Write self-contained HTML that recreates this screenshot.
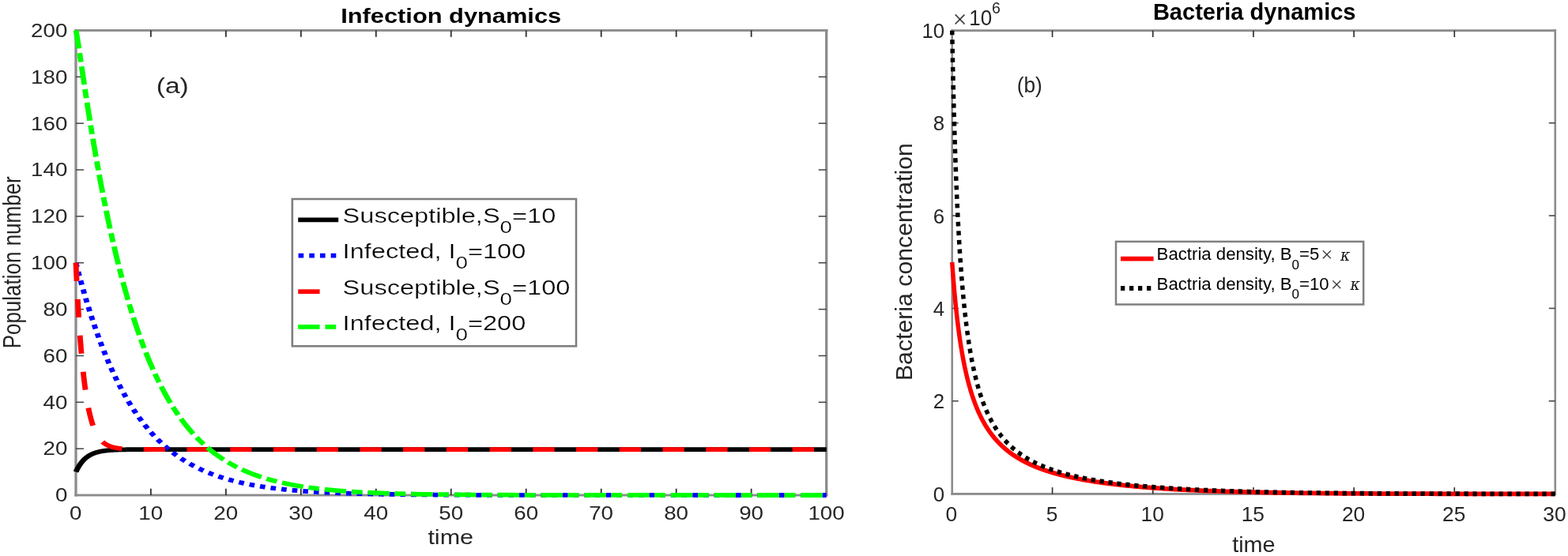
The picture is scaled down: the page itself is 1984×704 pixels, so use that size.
<!DOCTYPE html>
<html><head><meta charset="utf-8"><title>Infection and Bacteria dynamics</title>
<style>
html,body{margin:0;padding:0;background:#fff;}
body{width:1984px;height:704px;overflow:hidden;}
svg{display:block;font-family:"Liberation Sans", sans-serif;}
</style></head><body>
<svg width="1984" height="704" viewBox="0 0 1984 704">
<rect width="1984" height="704" fill="#fff"/>
<g id="left">
<rect x="94.35" y="37.05" width="953.00" height="2.90" fill="#8c8c8c"/>
<rect x="94.35" y="625.55" width="953.00" height="2.90" fill="#8c8c8c"/>
<rect x="94.35" y="37.05" width="3.30" height="591.40" fill="#8c8c8c"/>
<rect x="1044.05" y="37.05" width="3.30" height="591.40" fill="#8c8c8c"/>
<rect x="189.97" y="618.70" width="1.8" height="8.3" fill="#2e2e2e"/>
<rect x="189.97" y="38.50" width="1.8" height="8.3" fill="#2e2e2e"/>
<rect x="284.94" y="618.70" width="1.8" height="8.3" fill="#2e2e2e"/>
<rect x="284.94" y="38.50" width="1.8" height="8.3" fill="#2e2e2e"/>
<rect x="379.91" y="618.70" width="1.8" height="8.3" fill="#2e2e2e"/>
<rect x="379.91" y="38.50" width="1.8" height="8.3" fill="#2e2e2e"/>
<rect x="474.88" y="618.70" width="1.8" height="8.3" fill="#2e2e2e"/>
<rect x="474.88" y="38.50" width="1.8" height="8.3" fill="#2e2e2e"/>
<rect x="569.85" y="618.70" width="1.8" height="8.3" fill="#2e2e2e"/>
<rect x="569.85" y="38.50" width="1.8" height="8.3" fill="#2e2e2e"/>
<rect x="664.82" y="618.70" width="1.8" height="8.3" fill="#2e2e2e"/>
<rect x="664.82" y="38.50" width="1.8" height="8.3" fill="#2e2e2e"/>
<rect x="759.79" y="618.70" width="1.8" height="8.3" fill="#2e2e2e"/>
<rect x="759.79" y="38.50" width="1.8" height="8.3" fill="#2e2e2e"/>
<rect x="854.76" y="618.70" width="1.8" height="8.3" fill="#2e2e2e"/>
<rect x="854.76" y="38.50" width="1.8" height="8.3" fill="#2e2e2e"/>
<rect x="949.73" y="618.70" width="1.8" height="8.3" fill="#2e2e2e"/>
<rect x="949.73" y="38.50" width="1.8" height="8.3" fill="#2e2e2e"/>
<rect x="96.00" y="567.40" width="10" height="1.5" fill="#444"/>
<rect x="1035.70" y="567.40" width="10" height="1.5" fill="#444"/>
<rect x="96.00" y="508.55" width="10" height="1.5" fill="#444"/>
<rect x="1035.70" y="508.55" width="10" height="1.5" fill="#444"/>
<rect x="96.00" y="449.70" width="10" height="1.5" fill="#444"/>
<rect x="1035.70" y="449.70" width="10" height="1.5" fill="#444"/>
<rect x="96.00" y="390.85" width="10" height="1.5" fill="#444"/>
<rect x="1035.70" y="390.85" width="10" height="1.5" fill="#444"/>
<rect x="96.00" y="332.00" width="10" height="1.5" fill="#444"/>
<rect x="1035.70" y="332.00" width="10" height="1.5" fill="#444"/>
<rect x="96.00" y="273.15" width="10" height="1.5" fill="#444"/>
<rect x="1035.70" y="273.15" width="10" height="1.5" fill="#444"/>
<rect x="96.00" y="214.30" width="10" height="1.5" fill="#444"/>
<rect x="1035.70" y="214.30" width="10" height="1.5" fill="#444"/>
<rect x="96.00" y="155.45" width="10" height="1.5" fill="#444"/>
<rect x="1035.70" y="155.45" width="10" height="1.5" fill="#444"/>
<rect x="96.00" y="96.60" width="10" height="1.5" fill="#444"/>
<rect x="1035.70" y="96.60" width="10" height="1.5" fill="#444"/>
<g transform="scale(1.188 1)" fill="none" stroke-linecap="butt" stroke-linejoin="round">
<path d="M80.81 597.58 L81.00 597.08 L81.19 596.59 L81.38 596.11 L81.58 595.64 L81.77 595.18 L81.96 594.73 L82.15 594.28 L82.34 593.84 L82.53 593.41 L82.73 592.99 L82.92 592.57 L83.11 592.16 L83.30 591.76 L83.49 591.37 L83.69 590.98 L83.88 590.60 L84.07 590.22 L84.26 589.86 L84.45 589.49 L84.65 589.14 L84.84 588.79 L85.03 588.45 L85.22 588.11 L85.41 587.78 L85.60 587.45 L85.80 587.13 L85.99 586.82 L86.18 586.51 L86.37 586.21 L86.56 585.91 L86.76 585.61 L86.95 585.33 L87.14 585.04 L87.33 584.76 L87.52 584.49 L87.71 584.22 L87.91 583.96 L88.10 583.70 L88.29 583.45 L88.48 583.20 L88.67 582.95 L88.87 582.71 L89.06 582.47 L89.25 582.24 L89.44 582.01 L89.63 581.78 L89.83 581.56 L90.02 581.34 L90.21 581.13 L90.40 580.92 L90.59 580.71 L90.78 580.51 L90.98 580.31 L91.17 580.11 L91.36 579.92 L91.55 579.73 L91.74 579.55 L91.94 579.36 L92.13 579.19 L92.32 579.01 L92.51 578.84 L92.70 578.67 L92.90 578.50 L93.09 578.33 L93.28 578.17 L93.47 578.01 L93.66 577.86 L93.85 577.70 L94.05 577.55 L94.24 577.41 L94.43 577.26 L94.62 577.12 L94.81 576.98 L95.01 576.84 L95.20 576.70 L95.39 576.57 L95.58 576.44 L95.77 576.31 L95.96 576.18 L96.16 576.06 L96.35 575.94 L96.54 575.82 L96.73 575.70 L96.92 575.58 L97.12 575.47 L97.31 575.36 L97.50 575.25 L97.69 575.14 L97.88 575.03 L98.08 574.93 L98.27 574.83 L98.46 574.73 L98.65 574.63 L98.84 574.53 L99.03 574.44 L99.23 574.34 L99.42 574.25 L99.61 574.16 L99.80 574.07 L99.99 573.98 L100.19 573.90 L100.38 573.81 L100.57 573.73 L100.76 573.65 L100.95 573.57 L101.15 573.49 L101.34 573.41 L101.53 573.34 L101.72 573.26 L101.91 573.19 L102.10 573.12 L102.30 573.04 L102.49 572.97 L102.68 572.91 L102.87 572.84 L103.06 572.77 L103.26 572.71 L103.45 572.64 L103.64 572.58 L103.83 572.52 L104.02 572.46 L104.21 572.40 L104.41 572.34 L104.60 572.28 L104.79 572.23 L104.98 572.17 L105.17 572.12 L105.37 572.06 L105.56 572.01 L105.75 571.96 L105.94 571.91 L106.13 571.86 L106.33 571.81 L106.52 571.76 L106.71 571.71 L106.90 571.67 L107.09 571.62 L107.28 571.58 L107.48 571.53 L107.67 571.49 L107.86 571.45 L108.05 571.40 L108.24 571.36 L108.44 571.32 L108.63 571.28 L108.82 571.24 L109.01 571.21 L109.20 571.17 L109.40 571.13 L109.59 571.09 L109.78 571.06 L109.97 571.02 L110.16 570.99 L110.35 570.95 L110.55 570.92 L110.74 570.89 L110.93 570.86 L111.12 570.82 L111.31 570.79 L111.51 570.76 L111.70 570.73 L111.89 570.70 L112.08 570.67 L112.27 570.65 L112.46 570.62 L112.66 570.59 L112.85 570.56 L113.04 570.54 L113.23 570.51 L113.42 570.48 L113.62 570.46 L113.81 570.43 L114.00 570.41 L114.19 570.39 L114.38 570.36 L114.58 570.34 L114.77 570.32 L114.96 570.29 L115.15 570.27 L115.34 570.25 L115.53 570.23 L115.73 570.21 L115.92 570.19 L116.11 570.17 L116.30 570.15 L116.49 570.13 L116.69 570.11 L116.88 570.09 L117.07 570.07 L117.26 570.06 L117.45 570.04 L117.64 570.02 L117.84 570.00 L118.03 569.99 L118.22 569.97 L118.41 569.95 L118.60 569.94 L118.80 569.92 L118.99 569.91 L119.18 569.89 L119.37 569.88 L119.56 569.86 L119.76 569.85 L119.95 569.83 L120.14 569.82 L120.33 569.81 L120.52 569.79 L120.71 569.78 L120.91 569.77 L121.10 569.75 L121.29 569.74 L121.48 569.73 L121.67 569.72 L121.87 569.70 L122.06 569.69 L122.25 569.68 L122.44 569.67 L122.63 569.66 L122.83 569.65 L123.02 569.64 L123.21 569.63 L123.40 569.62 L123.59 569.61 L123.78 569.60 L123.98 569.59 L124.17 569.58 L124.36 569.57 L124.55 569.56 L124.74 569.55 L124.94 569.54 L125.13 569.53 L125.32 569.52 L125.51 569.51 L125.70 569.51 L125.89 569.50 L126.09 569.49 L126.28 569.48 L126.47 569.47 L126.66 569.47 L126.85 569.46 L127.05 569.45 L127.24 569.44 L127.43 569.44 L127.62 569.43 L127.81 569.42 L128.01 569.42 L128.20 569.41 L128.39 569.40 L128.58 569.40 L128.77 569.39 L128.96 569.38 L129.16 569.38 L129.35 569.37 L129.54 569.37 L129.73 569.36 L129.92 569.35 L130.12 569.35 L130.31 569.34 L130.50 569.34 L130.69 569.33 L130.88 569.33 L131.08 569.32 L131.27 569.32 L131.46 569.31 L131.65 569.31 L131.84 569.30 L132.03 569.30 L132.23 569.29 L132.42 569.29 L132.61 569.28 L132.80 569.28 L132.99 569.28 L133.19 569.27 L133.38 569.27 L133.57 569.26 L133.76 569.26 L133.95 569.26 L134.14 569.25 L134.34 569.25 L134.53 569.24 L134.72 569.24 L134.91 569.24 L135.10 569.23 L135.30 569.23 L135.49 569.23 L135.68 569.22 L135.87 569.22 L136.06 569.22 L136.26 569.21 L136.45 569.21 L136.64 569.21 L136.83 569.20 L137.02 569.20 L137.21 569.20 L137.41 569.20 L137.60 569.19 L137.79 569.19 L137.98 569.19 L138.17 569.18 L138.37 569.18 L138.56 569.18 L138.75 569.18 L138.94 569.17 L139.13 569.17 L139.32 569.17 L139.52 569.17 L139.71 569.16 L139.90 569.16 L140.09 569.16 L140.28 569.16 L140.48 569.16 L140.67 569.15 L140.86 569.15 L141.05 569.15 L141.24 569.15 L141.44 569.15 L141.63 569.14 L141.82 569.14 L142.01 569.14 L142.20 569.14 L142.39 569.14 L142.59 569.13 L142.78 569.13 L142.97 569.13 L143.16 569.13 L143.35 569.13 L143.55 569.13 L143.74 569.12 L143.93 569.12 L144.12 569.12 L144.31 569.12 L144.51 569.12 L144.70 569.12 L144.89 569.11 L145.08 569.11 L145.27 569.11 L145.46 569.11 L145.66 569.11 L145.85 569.11 L146.04 569.11 L146.23 569.11 L146.42 569.10 L146.62 569.10 L146.81 569.10 L147.00 569.10 L147.19 569.10 L147.38 569.10 L147.57 569.10 L147.77 569.10 L147.96 569.09 L148.15 569.09 L148.34 569.09 L148.53 569.09 L148.73 569.09 L148.92 569.09 L149.11 569.09 L149.30 569.09 L149.49 569.09 L149.69 569.09 L149.88 569.08 L150.07 569.08 L150.26 569.08 L150.45 569.08 L150.64 569.08 L150.84 569.08 L151.03 569.08 L151.22 569.08 L151.41 569.08 L151.60 569.08 L151.80 569.08 L151.99 569.08 L152.18 569.07 L152.37 569.07 L152.56 569.07 L152.76 569.07 L152.95 569.07 L153.14 569.07 L153.33 569.07 L153.52 569.07 L153.71 569.07 L153.91 569.07 L154.10 569.07 L154.29 569.07 L154.48 569.07 L154.67 569.07 L154.87 569.07 L155.06 569.07 L155.25 569.06 L155.44 569.06 L155.63 569.06 L155.82 569.06 L156.02 569.06 L156.21 569.06 L156.40 569.06 L156.59 569.06 L156.78 569.06 L156.98 569.06 L157.17 569.06 L157.36 569.06 L157.55 569.06 L157.74 569.06 L157.94 569.06 L158.13 569.06 L158.32 569.06 L158.51 569.06 L158.70 569.06 L158.89 569.06 L159.09 569.06 L159.28 569.05 L159.47 569.05 L159.66 569.05 L159.85 569.05 L160.05 569.05 L160.24 569.05 L160.43 569.05 L160.62 569.05 L160.81 569.05 L161.00 569.05 L161.20 569.05 L161.39 569.05 L161.58 569.05 L161.77 569.05 L161.96 569.05 L162.16 569.05 L162.35 569.05 L162.54 569.05 L162.73 569.05 L162.92 569.05 L163.12 569.05 L163.31 569.05 L163.50 569.05 L163.69 569.05 L163.88 569.05 L164.07 569.05 L164.27 569.05 L164.46 569.05 L164.65 569.05 L164.84 569.05 L165.03 569.05 L165.23 569.05 L165.42 569.05 L165.61 569.05 L165.80 569.04 L165.99 569.04 L166.19 569.04 L166.38 569.04 L166.57 569.04 L166.76 569.04 L166.95 569.04 L167.14 569.04 L167.34 569.04 L167.53 569.04 L167.72 569.04 L167.91 569.04 L168.10 569.04 L168.30 569.04 L168.49 569.04 L168.68 569.04 L168.87 569.04 L169.06 569.04 L169.25 569.04 L169.45 569.04 L169.64 569.04 L169.83 569.04 L170.02 569.04 L170.21 569.04 L170.41 569.04 L170.60 569.04 L170.79 569.04 L170.98 569.04 L171.17 569.04 L171.37 569.04 L171.56 569.04 L171.75 569.04 L171.94 569.04 L172.13 569.04 L172.32 569.04 L172.52 569.04 L172.71 569.04 L172.90 569.04 L173.09 569.04 L173.28 569.04 L173.48 569.04 L173.67 569.04 L173.86 569.04 L174.05 569.04 L174.24 569.04 L174.44 569.04 L174.63 569.04 L174.82 569.04 L175.01 569.04 L175.20 569.04 L175.39 569.04 L175.59 569.04 L175.78 569.04 L175.97 569.04 L176.16 569.04 L176.35 569.04 L176.55 569.04 L176.74 569.04 L177.62 569.04 L178.50 569.04 L179.38 569.04 L180.25 569.04 L181.13 569.04 L182.01 569.04 L182.89 569.04 L183.77 569.04 L184.65 569.03 L185.53 569.03 L186.41 569.03 L187.29 569.03 L188.17 569.03 L189.05 569.03 L189.93 569.03 L190.81 569.03 L191.69 569.03 L192.57 569.03 L193.45 569.03 L194.32 569.03 L195.20 569.03 L196.08 569.03 L196.96 569.03 L197.84 569.03 L198.72 569.03 L199.60 569.03 L200.48 569.03 L201.36 569.03 L202.24 569.03 L203.12 569.03 L204.00 569.03 L204.88 569.03 L205.76 569.03 L206.64 569.03 L207.51 569.03 L208.39 569.03 L209.27 569.03 L210.15 569.03 L211.03 569.03 L211.91 569.03 L212.79 569.03 L213.67 569.03 L214.55 569.03 L215.43 569.03 L216.31 569.03 L217.19 569.03 L218.07 569.03 L218.95 569.03 L219.83 569.03 L220.70 569.03 L221.58 569.03 L222.46 569.03 L223.34 569.03 L224.22 569.03 L225.10 569.03 L225.98 569.03 L226.86 569.03 L227.74 569.03 L228.62 569.03 L229.50 569.03 L230.38 569.03 L231.26 569.03 L232.14 569.03 L233.02 569.03 L233.90 569.03 L234.77 569.03 L235.65 569.03 L236.53 569.03 L237.41 569.03 L238.29 569.03 L239.17 569.03 L240.05 569.03 L240.93 569.03 L241.81 569.03 L242.69 569.03 L243.57 569.03 L244.45 569.03 L245.33 569.03 L246.21 569.03 L247.09 569.03 L247.96 569.03 L248.84 569.03 L249.72 569.03 L250.60 569.03 L251.48 569.03 L252.36 569.03 L253.24 569.03 L254.12 569.03 L255.00 569.03 L255.88 569.03 L256.76 569.03 L257.64 569.03 L258.52 569.03 L259.40 569.03 L260.28 569.03 L261.16 569.03 L262.03 569.03 L262.91 569.03 L263.79 569.03 L264.67 569.03 L265.55 569.03 L266.43 569.03 L267.31 569.03 L268.19 569.03 L269.07 569.03 L269.95 569.03 L270.83 569.03 L271.71 569.03 L272.59 569.03 L273.47 569.03 L274.35 569.03 L275.22 569.03 L276.10 569.03 L276.98 569.03 L277.86 569.03 L278.74 569.03 L279.62 569.03 L280.50 569.03 L281.38 569.03 L282.26 569.03 L283.14 569.03 L284.02 569.03 L284.90 569.03 L285.78 569.03 L286.66 569.03 L287.54 569.03 L288.42 569.03 L289.29 569.03 L290.17 569.03 L291.05 569.03 L291.93 569.03 L292.81 569.03 L293.69 569.03 L294.57 569.03 L295.45 569.03 L296.33 569.03 L297.21 569.03 L298.09 569.03 L298.97 569.03 L299.85 569.03 L300.73 569.03 L301.61 569.03 L302.48 569.03 L303.36 569.03 L304.24 569.03 L305.12 569.03 L306.00 569.03 L306.88 569.03 L307.76 569.03 L308.64 569.03 L309.52 569.03 L310.40 569.03 L311.28 569.03 L312.16 569.03 L313.04 569.03 L313.92 569.03 L314.80 569.03 L315.67 569.03 L316.55 569.03 L317.43 569.03 L318.31 569.03 L319.19 569.03 L320.07 569.03 L320.95 569.03 L321.83 569.03 L322.71 569.03 L323.59 569.03 L324.47 569.03 L325.35 569.03 L326.23 569.03 L327.11 569.03 L327.99 569.03 L328.87 569.03 L329.74 569.03 L330.62 569.03 L331.50 569.03 L332.38 569.03 L333.26 569.03 L334.14 569.03 L335.02 569.03 L335.90 569.03 L336.78 569.03 L337.66 569.03 L338.54 569.03 L339.42 569.03 L340.30 569.03 L341.18 569.03 L342.06 569.03 L342.93 569.03 L343.81 569.03 L344.69 569.03 L345.57 569.03 L346.45 569.03 L347.33 569.03 L348.21 569.03 L349.09 569.03 L349.97 569.03 L350.85 569.03 L351.73 569.03 L352.61 569.03 L353.49 569.03 L354.37 569.03 L355.25 569.03 L356.13 569.03 L357.00 569.03 L357.88 569.03 L358.76 569.03 L359.64 569.03 L360.52 569.03 L361.40 569.03 L362.28 569.03 L363.16 569.03 L364.04 569.03 L364.92 569.03 L365.80 569.03 L366.68 569.03 L367.56 569.03 L368.44 569.03 L369.32 569.03 L370.19 569.03 L371.07 569.03 L371.95 569.03 L372.83 569.03 L373.71 569.03 L374.59 569.03 L375.47 569.03 L376.35 569.03 L377.23 569.03 L378.11 569.03 L378.99 569.03 L379.87 569.03 L380.75 569.03 L381.63 569.03 L382.51 569.03 L383.39 569.03 L384.26 569.03 L385.14 569.03 L386.02 569.03 L386.90 569.03 L387.78 569.03 L388.66 569.03 L389.54 569.03 L390.42 569.03 L391.30 569.03 L392.18 569.03 L393.06 569.03 L393.94 569.03 L394.82 569.03 L395.70 569.03 L396.58 569.03 L397.45 569.03 L398.33 569.03 L399.21 569.03 L400.09 569.03 L400.97 569.03 L401.85 569.03 L402.73 569.03 L403.61 569.03 L404.49 569.03 L405.37 569.03 L406.25 569.03 L407.13 569.03 L408.01 569.03 L408.89 569.03 L409.77 569.03 L410.64 569.03 L411.52 569.03 L412.40 569.03 L413.28 569.03 L414.16 569.03 L415.04 569.03 L415.92 569.03 L416.80 569.03 L417.68 569.03 L418.56 569.03 L419.44 569.03 L420.32 569.03 L421.20 569.03 L422.08 569.03 L422.96 569.03 L423.84 569.03 L424.71 569.03 L425.59 569.03 L426.47 569.03 L427.35 569.03 L428.23 569.03 L429.11 569.03 L429.99 569.03 L430.87 569.03 L431.75 569.03 L432.63 569.03 L433.51 569.03 L434.39 569.03 L435.27 569.03 L436.15 569.03 L437.03 569.03 L437.90 569.03 L438.78 569.03 L439.66 569.03 L440.54 569.03 L451.82 569.03 L463.09 569.03 L474.36 569.03 L485.64 569.03 L496.91 569.03 L508.19 569.03 L519.46 569.03 L530.73 569.03 L542.01 569.03 L553.28 569.03 L564.55 569.03 L575.83 569.03 L587.10 569.03 L598.38 569.03 L609.65 569.03 L620.92 569.03 L632.20 569.03 L643.47 569.03 L654.74 569.03 L666.02 569.03 L677.29 569.03 L688.57 569.03 L699.84 569.03 L711.11 569.03 L722.39 569.03 L733.66 569.03 L744.93 569.03 L756.21 569.03 L767.48 569.03 L778.76 569.03 L790.03 569.03 L801.30 569.03 L812.58 569.03 L823.85 569.03 L835.12 569.03 L846.40 569.03 L857.67 569.03 L868.95 569.03 L880.22 569.03" stroke="#000" stroke-width="5.76"/>
<path d="M80.81 332.75 L81.00 333.63 L81.19 334.51 L81.38 335.39 L81.58 336.26 L81.77 337.13 L81.96 338.01 L82.15 338.87 L82.34 339.74 L82.53 340.60 L82.73 341.46 L82.92 342.32 L83.11 343.18 L83.30 344.03 L83.49 344.88 L83.69 345.73 L83.88 346.58 L84.07 347.43 L84.26 348.27 L84.45 349.11 L84.65 349.95 L84.84 350.78 L85.03 351.62 L85.22 352.45 L85.41 353.28 L85.60 354.11 L85.80 354.93 L85.99 355.75 L86.18 356.57 L86.37 357.39 L86.56 358.21 L86.76 359.02 L86.95 359.83 L87.14 360.64 L87.33 361.45 L87.52 362.26 L87.71 363.06 L87.91 363.86 L88.10 364.66 L88.29 365.46 L88.48 366.25 L88.67 367.04 L88.87 367.83 L89.06 368.62 L89.25 369.40 L89.44 370.19 L89.63 370.97 L89.83 371.75 L90.02 372.53 L90.21 373.30 L90.40 374.07 L90.59 374.84 L90.78 375.61 L90.98 376.38 L91.17 377.14 L91.36 377.91 L91.55 378.67 L91.74 379.42 L91.94 380.18 L92.13 380.93 L92.32 381.69 L92.51 382.43 L92.70 383.18 L92.90 383.93 L93.09 384.67 L93.28 385.41 L93.47 386.15 L93.66 386.89 L93.85 387.62 L94.05 388.36 L94.24 389.09 L94.43 389.82 L94.62 390.54 L94.81 391.27 L95.01 391.99 L95.20 392.71 L95.39 393.43 L95.58 394.15 L95.77 394.86 L95.96 395.58 L96.16 396.29 L96.35 397.00 L96.54 397.70 L96.73 398.41 L96.92 399.11 L97.12 399.81 L97.31 400.51 L97.50 401.21 L97.69 401.90 L97.88 402.59 L98.08 403.29 L98.27 403.97 L98.46 404.66 L98.65 405.35 L98.84 406.03 L99.03 406.71 L99.23 407.39 L99.42 408.07 L99.61 408.74 L99.80 409.42 L99.99 410.09 L100.19 410.76 L100.38 411.43 L100.57 412.09 L100.76 412.76 L100.95 413.42 L101.15 414.08 L101.34 414.74 L101.53 415.39 L101.72 416.05 L101.91 416.70 L102.10 417.35 L102.30 418.00 L102.49 418.65 L102.68 419.29 L102.87 419.93 L103.06 420.57 L103.26 421.21 L103.45 421.85 L103.64 422.49 L103.83 423.12 L104.02 423.75 L104.21 424.38 L104.41 425.01 L104.60 425.64 L104.79 426.26 L104.98 426.89 L105.17 427.51 L105.37 428.13 L105.56 428.75 L105.75 429.36 L105.94 429.98 L106.13 430.59 L106.33 431.20 L106.52 431.81 L106.71 432.41 L106.90 433.02 L107.09 433.62 L107.28 434.22 L107.48 434.82 L107.67 435.42 L107.86 436.02 L108.05 436.61 L108.24 437.21 L108.44 437.80 L108.63 438.39 L108.82 438.97 L109.01 439.56 L109.20 440.14 L109.40 440.73 L109.59 441.31 L109.78 441.89 L109.97 442.46 L110.16 443.04 L110.35 443.61 L110.55 444.19 L110.74 444.76 L110.93 445.33 L111.12 445.89 L111.31 446.46 L111.51 447.02 L111.70 447.58 L111.89 448.15 L112.08 448.70 L112.27 449.26 L112.46 449.82 L112.66 450.37 L112.85 450.92 L113.04 451.47 L113.23 452.02 L113.42 452.57 L113.62 453.12 L113.81 453.66 L114.00 454.20 L114.19 454.74 L114.38 455.28 L114.58 455.82 L114.77 456.36 L114.96 456.89 L115.15 457.43 L115.34 457.96 L115.53 458.49 L115.73 459.01 L115.92 459.54 L116.11 460.07 L116.30 460.59 L116.49 461.11 L116.69 461.63 L116.88 462.15 L117.07 462.67 L117.26 463.18 L117.45 463.70 L117.64 464.21 L117.84 464.72 L118.03 465.23 L118.22 465.74 L118.41 466.25 L118.60 466.75 L118.80 467.25 L118.99 467.76 L119.18 468.26 L119.37 468.76 L119.56 469.25 L119.76 469.75 L119.95 470.24 L120.14 470.74 L120.33 471.23 L120.52 471.72 L120.71 472.21 L120.91 472.69 L121.10 473.18 L121.29 473.66 L121.48 474.15 L121.67 474.63 L121.87 475.11 L122.06 475.59 L122.25 476.06 L122.44 476.54 L122.63 477.01 L122.83 477.49 L123.02 477.96 L123.21 478.43 L123.40 478.89 L123.59 479.36 L123.78 479.83 L123.98 480.29 L124.17 480.75 L124.36 481.22 L124.55 481.67 L124.74 482.13 L124.94 482.59 L125.13 483.05 L125.32 483.50 L125.51 483.95 L125.70 484.41 L125.89 484.86 L126.09 485.30 L126.28 485.75 L126.47 486.20 L126.66 486.64 L126.85 487.09 L127.05 487.53 L127.24 487.97 L127.43 488.41 L127.62 488.85 L127.81 489.28 L128.01 489.72 L128.20 490.15 L128.39 490.58 L128.58 491.02 L128.77 491.45 L128.96 491.87 L129.16 492.30 L129.35 492.73 L129.54 493.15 L129.73 493.58 L129.92 494.00 L130.12 494.42 L130.31 494.84 L130.50 495.26 L130.69 495.67 L130.88 496.09 L131.08 496.51 L131.27 496.92 L131.46 497.33 L131.65 497.74 L131.84 498.15 L132.03 498.56 L132.23 498.97 L132.42 499.37 L132.61 499.78 L132.80 500.18 L132.99 500.58 L133.19 500.98 L133.38 501.38 L133.57 501.78 L133.76 502.18 L133.95 502.57 L134.14 502.97 L134.34 503.36 L134.53 503.75 L134.72 504.14 L134.91 504.53 L135.10 504.92 L135.30 505.31 L135.49 505.70 L135.68 506.08 L135.87 506.46 L136.06 506.85 L136.26 507.23 L136.45 507.61 L136.64 507.99 L136.83 508.37 L137.02 508.74 L137.21 509.12 L137.41 509.49 L137.60 509.87 L137.79 510.24 L137.98 510.61 L138.17 510.98 L138.37 511.35 L138.56 511.72 L138.75 512.08 L138.94 512.45 L139.13 512.81 L139.32 513.17 L139.52 513.54 L139.71 513.90 L139.90 514.26 L140.09 514.62 L140.28 514.97 L140.48 515.33 L140.67 515.68 L140.86 516.04 L141.05 516.39 L141.24 516.74 L141.44 517.09 L141.63 517.44 L141.82 517.79 L142.01 518.14 L142.20 518.49 L142.39 518.83 L142.59 519.18 L142.78 519.52 L142.97 519.86 L143.16 520.20 L143.35 520.54 L143.55 520.88 L143.74 521.22 L143.93 521.56 L144.12 521.89 L144.31 522.23 L144.51 522.56 L144.70 522.90 L144.89 523.23 L145.08 523.56 L145.27 523.89 L145.46 524.22 L145.66 524.54 L145.85 524.87 L146.04 525.20 L146.23 525.52 L146.42 525.84 L146.62 526.17 L146.81 526.49 L147.00 526.81 L147.19 527.13 L147.38 527.45 L147.57 527.76 L147.77 528.08 L147.96 528.40 L148.15 528.71 L148.34 529.02 L148.53 529.34 L148.73 529.65 L148.92 529.96 L149.11 530.27 L149.30 530.58 L149.49 530.89 L149.69 531.19 L149.88 531.50 L150.07 531.80 L150.26 532.11 L150.45 532.41 L150.64 532.71 L150.84 533.01 L151.03 533.31 L151.22 533.61 L151.41 533.91 L151.60 534.21 L151.80 534.50 L151.99 534.80 L152.18 535.09 L152.37 535.39 L152.56 535.68 L152.76 535.97 L152.95 536.26 L153.14 536.55 L153.33 536.84 L153.52 537.13 L153.71 537.42 L153.91 537.70 L154.10 537.99 L154.29 538.27 L154.48 538.56 L154.67 538.84 L154.87 539.12 L155.06 539.40 L155.25 539.68 L155.44 539.96 L155.63 540.24 L155.82 540.52 L156.02 540.79 L156.21 541.07 L156.40 541.35 L156.59 541.62 L156.78 541.89 L156.98 542.16 L157.17 542.44 L157.36 542.71 L157.55 542.98 L157.74 543.25 L157.94 543.51 L158.13 543.78 L158.32 544.05 L158.51 544.31 L158.70 544.58 L158.89 544.84 L159.09 545.10 L159.28 545.37 L159.47 545.63 L159.66 545.89 L159.85 546.15 L160.05 546.41 L160.24 546.66 L160.43 546.92 L160.62 547.18 L160.81 547.43 L161.00 547.69 L161.20 547.94 L161.39 548.20 L161.58 548.45 L161.77 548.70 L161.96 548.95 L162.16 549.20 L162.35 549.45 L162.54 549.70 L162.73 549.95 L162.92 550.19 L163.12 550.44 L163.31 550.68 L163.50 550.93 L163.69 551.17 L163.88 551.42 L164.07 551.66 L164.27 551.90 L164.46 552.14 L164.65 552.38 L164.84 552.62 L165.03 552.86 L165.23 553.10 L165.42 553.33 L165.61 553.57 L165.80 553.80 L165.99 554.04 L166.19 554.27 L166.38 554.51 L166.57 554.74 L166.76 554.97 L166.95 555.20 L167.14 555.43 L167.34 555.66 L167.53 555.89 L167.72 556.12 L167.91 556.34 L168.10 556.57 L168.30 556.80 L168.49 557.02 L168.68 557.25 L168.87 557.47 L169.06 557.69 L169.25 557.92 L169.45 558.14 L169.64 558.36 L169.83 558.58 L170.02 558.80 L170.21 559.02 L170.41 559.24 L170.60 559.45 L170.79 559.67 L170.98 559.89 L171.17 560.10 L171.37 560.32 L171.56 560.53 L171.75 560.74 L171.94 560.96 L172.13 561.17 L172.32 561.38 L172.52 561.59 L172.71 561.80 L172.90 562.01 L173.09 562.22 L173.28 562.43 L173.48 562.63 L173.67 562.84 L173.86 563.05 L174.05 563.25 L174.24 563.46 L174.44 563.66 L174.63 563.86 L174.82 564.07 L175.01 564.27 L175.20 564.47 L175.39 564.67 L175.59 564.87 L175.78 565.07 L175.97 565.27 L176.16 565.47 L176.35 565.67 L176.55 565.86 L176.74 566.06 L177.62 566.95 L178.50 567.83 L179.38 568.70 L180.25 569.55 L181.13 570.39 L182.01 571.22 L182.89 572.04 L183.77 572.85 L184.65 573.64 L185.53 574.42 L186.41 575.19 L187.29 575.95 L188.17 576.70 L189.05 577.44 L189.93 578.17 L190.81 578.88 L191.69 579.59 L192.57 580.28 L193.45 580.97 L194.32 581.65 L195.20 582.31 L196.08 582.97 L196.96 583.61 L197.84 584.25 L198.72 584.88 L199.60 585.50 L200.48 586.11 L201.36 586.71 L202.24 587.30 L203.12 587.88 L204.00 588.46 L204.88 589.02 L205.76 589.58 L206.64 590.13 L207.51 590.67 L208.39 591.21 L209.27 591.73 L210.15 592.25 L211.03 592.76 L211.91 593.26 L212.79 593.76 L213.67 594.25 L214.55 594.73 L215.43 595.21 L216.31 595.67 L217.19 596.13 L218.07 596.59 L218.95 597.03 L219.83 597.48 L220.70 597.91 L221.58 598.34 L222.46 598.76 L223.34 599.17 L224.22 599.58 L225.10 599.99 L225.98 600.38 L226.86 600.78 L227.74 601.16 L228.62 601.54 L229.50 601.92 L230.38 602.29 L231.26 602.65 L232.14 603.01 L233.02 603.36 L233.90 603.71 L234.77 604.05 L235.65 604.39 L236.53 604.72 L237.41 605.05 L238.29 605.37 L239.17 605.69 L240.05 606.00 L240.93 606.31 L241.81 606.62 L242.69 606.92 L243.57 607.21 L244.45 607.51 L245.33 607.79 L246.21 608.08 L247.09 608.35 L247.96 608.63 L248.84 608.90 L249.72 609.17 L250.60 609.43 L251.48 609.69 L252.36 609.94 L253.24 610.19 L254.12 610.44 L255.00 610.68 L255.88 610.92 L256.76 611.16 L257.64 611.39 L258.52 611.62 L259.40 611.85 L260.28 612.07 L261.16 612.29 L262.03 612.51 L262.91 612.72 L263.79 612.93 L264.67 613.14 L265.55 613.35 L266.43 613.55 L267.31 613.74 L268.19 613.94 L269.07 614.13 L269.95 614.32 L270.83 614.51 L271.71 614.69 L272.59 614.87 L273.47 615.05 L274.35 615.23 L275.22 615.40 L276.10 615.57 L276.98 615.74 L277.86 615.91 L278.74 616.07 L279.62 616.23 L280.50 616.39 L281.38 616.55 L282.26 616.70 L283.14 616.85 L284.02 617.00 L284.90 617.15 L285.78 617.29 L286.66 617.44 L287.54 617.58 L288.42 617.72 L289.29 617.85 L290.17 617.99 L291.05 618.12 L291.93 618.25 L292.81 618.38 L293.69 618.51 L294.57 618.63 L295.45 618.76 L296.33 618.88 L297.21 619.00 L298.09 619.12 L298.97 619.23 L299.85 619.35 L300.73 619.46 L301.61 619.57 L302.48 619.68 L303.36 619.79 L304.24 619.89 L305.12 620.00 L306.00 620.10 L306.88 620.20 L307.76 620.30 L308.64 620.40 L309.52 620.50 L310.40 620.60 L311.28 620.69 L312.16 620.78 L313.04 620.87 L313.92 620.96 L314.80 621.05 L315.67 621.14 L316.55 621.23 L317.43 621.31 L318.31 621.40 L319.19 621.48 L320.07 621.56 L320.95 621.64 L321.83 621.72 L322.71 621.80 L323.59 621.87 L324.47 621.95 L325.35 622.02 L326.23 622.10 L327.11 622.17 L327.99 622.24 L328.87 622.31 L329.74 622.38 L330.62 622.45 L331.50 622.52 L332.38 622.58 L333.26 622.65 L334.14 622.71 L335.02 622.77 L335.90 622.84 L336.78 622.90 L337.66 622.96 L338.54 623.02 L339.42 623.08 L340.30 623.13 L341.18 623.19 L342.06 623.25 L342.93 623.30 L343.81 623.36 L344.69 623.41 L345.57 623.46 L346.45 623.52 L347.33 623.57 L348.21 623.62 L349.09 623.67 L349.97 623.72 L350.85 623.76 L351.73 623.81 L352.61 623.86 L353.49 623.91 L354.37 623.95 L355.25 624.00 L356.13 624.04 L357.00 624.08 L357.88 624.13 L358.76 624.17 L359.64 624.21 L360.52 624.25 L361.40 624.29 L362.28 624.33 L363.16 624.37 L364.04 624.41 L364.92 624.45 L365.80 624.49 L366.68 624.52 L367.56 624.56 L368.44 624.60 L369.32 624.63 L370.19 624.67 L371.07 624.70 L371.95 624.73 L372.83 624.77 L373.71 624.80 L374.59 624.83 L375.47 624.87 L376.35 624.90 L377.23 624.93 L378.11 624.96 L378.99 624.99 L379.87 625.02 L380.75 625.05 L381.63 625.08 L382.51 625.10 L383.39 625.13 L384.26 625.16 L385.14 625.19 L386.02 625.21 L386.90 625.24 L387.78 625.27 L388.66 625.29 L389.54 625.32 L390.42 625.34 L391.30 625.37 L392.18 625.39 L393.06 625.41 L393.94 625.44 L394.82 625.46 L395.70 625.48 L396.58 625.51 L397.45 625.53 L398.33 625.55 L399.21 625.57 L400.09 625.59 L400.97 625.61 L401.85 625.63 L402.73 625.65 L403.61 625.67 L404.49 625.69 L405.37 625.71 L406.25 625.73 L407.13 625.75 L408.01 625.77 L408.89 625.79 L409.77 625.80 L410.64 625.82 L411.52 625.84 L412.40 625.86 L413.28 625.87 L414.16 625.89 L415.04 625.91 L415.92 625.92 L416.80 625.94 L417.68 625.95 L418.56 625.97 L419.44 625.98 L420.32 626.00 L421.20 626.01 L422.08 626.03 L422.96 626.04 L423.84 626.06 L424.71 626.07 L425.59 626.08 L426.47 626.10 L427.35 626.11 L428.23 626.12 L429.11 626.14 L429.99 626.15 L430.87 626.16 L431.75 626.17 L432.63 626.19 L433.51 626.20 L434.39 626.21 L435.27 626.22 L436.15 626.23 L437.03 626.25 L437.90 626.26 L438.78 626.27 L439.66 626.28 L440.54 626.29 L451.82 626.41 L463.09 626.51 L474.36 626.60 L485.64 626.67 L496.91 626.73 L508.19 626.77 L519.46 626.81 L530.73 626.84 L542.01 626.87 L553.28 626.89 L564.55 626.91 L575.83 626.93 L587.10 626.94 L598.38 626.95 L609.65 626.96 L620.92 626.97 L632.20 626.97 L643.47 626.98 L654.74 626.98 L666.02 626.98 L677.29 626.99 L688.57 626.99 L699.84 626.99 L711.11 626.99 L722.39 626.99 L733.66 626.99 L744.93 627.00 L756.21 627.00 L767.48 627.00 L778.76 627.00 L790.03 627.00 L801.30 627.00 L812.58 627.00 L823.85 627.00 L835.12 627.00 L846.40 627.00 L857.67 627.00 L868.95 627.00 L880.22 627.00" stroke="#0000ff" stroke-width="5.76" stroke-dasharray="5.592 5.938"/>
<path d="M80.81 332.75 L81.00 337.80 L81.19 342.74 L81.38 347.58 L81.58 352.31 L81.77 356.94 L81.96 361.47 L82.15 365.91 L82.34 370.25 L82.53 374.49 L82.73 378.65 L82.92 382.72 L83.11 386.70 L83.30 390.60 L83.49 394.41 L83.69 398.14 L83.88 401.79 L84.07 405.37 L84.26 408.86 L84.45 412.29 L84.65 415.64 L84.84 418.91 L85.03 422.12 L85.22 425.26 L85.41 428.33 L85.60 431.34 L85.80 434.28 L85.99 437.16 L86.18 439.98 L86.37 442.74 L86.56 445.44 L86.76 448.08 L86.95 450.66 L87.14 453.19 L87.33 455.67 L87.52 458.09 L87.71 460.46 L87.91 462.78 L88.10 465.05 L88.29 467.27 L88.48 469.45 L88.67 471.57 L88.87 473.66 L89.06 475.69 L89.25 477.69 L89.44 479.64 L89.63 481.55 L89.83 483.42 L90.02 485.25 L90.21 487.04 L90.40 488.79 L90.59 490.51 L90.78 492.18 L90.98 493.83 L91.17 495.43 L91.36 497.01 L91.55 498.55 L91.74 500.05 L91.94 501.53 L92.13 502.97 L92.32 504.38 L92.51 505.76 L92.70 507.11 L92.90 508.44 L93.09 509.73 L93.28 511.00 L93.47 512.24 L93.66 513.45 L93.85 514.64 L94.05 515.80 L94.24 516.94 L94.43 518.05 L94.62 519.14 L94.81 520.21 L95.01 521.25 L95.20 522.27 L95.39 523.27 L95.58 524.25 L95.77 525.21 L95.96 526.14 L96.16 527.06 L96.35 527.96 L96.54 528.83 L96.73 529.69 L96.92 530.53 L97.12 531.36 L97.31 532.16 L97.50 532.95 L97.69 533.72 L97.88 534.48 L98.08 535.21 L98.27 535.94 L98.46 536.64 L98.65 537.34 L98.84 538.01 L99.03 538.68 L99.23 539.32 L99.42 539.96 L99.61 540.58 L99.80 541.19 L99.99 541.78 L100.19 542.37 L100.38 542.94 L100.57 543.49 L100.76 544.04 L100.95 544.57 L101.15 545.10 L101.34 545.61 L101.53 546.11 L101.72 546.60 L101.91 547.08 L102.10 547.55 L102.30 548.01 L102.49 548.45 L102.68 548.89 L102.87 549.32 L103.06 549.75 L103.26 550.16 L103.45 550.56 L103.64 550.96 L103.83 551.34 L104.02 551.72 L104.21 552.09 L104.41 552.45 L104.60 552.81 L104.79 553.15 L104.98 553.49 L105.17 553.82 L105.37 554.15 L105.56 554.47 L105.75 554.78 L105.94 555.08 L106.13 555.38 L106.33 555.67 L106.52 555.96 L106.71 556.24 L106.90 556.51 L107.09 556.78 L107.28 557.04 L107.48 557.30 L107.67 557.55 L107.86 557.79 L108.05 558.03 L108.24 558.27 L108.44 558.50 L108.63 558.72 L108.82 558.94 L109.01 559.16 L109.20 559.37 L109.40 559.58 L109.59 559.78 L109.78 559.98 L109.97 560.17 L110.16 560.36 L110.35 560.54 L110.55 560.73 L110.74 560.90 L110.93 561.08 L111.12 561.25 L111.31 561.41 L111.51 561.58 L111.70 561.74 L111.89 561.89 L112.08 562.04 L112.27 562.19 L112.46 562.34 L112.66 562.48 L112.85 562.62 L113.04 562.76 L113.23 562.89 L113.42 563.03 L113.62 563.15 L113.81 563.28 L114.00 563.40 L114.19 563.52 L114.38 563.64 L114.58 563.76 L114.77 563.87 L114.96 563.98 L115.15 564.09 L115.34 564.19 L115.53 564.30 L115.73 564.40 L115.92 564.50 L116.11 564.59 L116.30 564.69 L116.49 564.78 L116.69 564.87 L116.88 564.96 L117.07 565.05 L117.26 565.13 L117.45 565.22 L117.64 565.30 L117.84 565.38 L118.03 565.46 L118.22 565.53 L118.41 565.61 L118.60 565.68 L118.80 565.75 L118.99 565.82 L119.18 565.89 L119.37 565.96 L119.56 566.02 L119.76 566.09 L119.95 566.15 L120.14 566.21 L120.33 566.27 L120.52 566.33 L120.71 566.39 L120.91 566.45 L121.10 566.50 L121.29 566.55 L121.48 566.61 L121.67 566.66 L121.87 566.71 L122.06 566.76 L122.25 566.81 L122.44 566.86 L122.63 566.90 L122.83 566.95 L123.02 566.99 L123.21 567.04 L123.40 567.08 L123.59 567.12 L123.78 567.16 L123.98 567.20 L124.17 567.24 L124.36 567.28 L124.55 567.32 L124.74 567.35 L124.94 567.39 L125.13 567.42 L125.32 567.46 L125.51 567.49 L125.70 567.52 L125.89 567.56 L126.09 567.59 L126.28 567.62 L126.47 567.65 L126.66 567.68 L126.85 567.71 L127.05 567.74 L127.24 567.76 L127.43 567.79 L127.62 567.82 L127.81 567.84 L128.01 567.87 L128.20 567.89 L128.39 567.92 L128.58 567.94 L128.77 567.97 L128.96 567.99 L129.16 568.01 L129.35 568.03 L129.54 568.05 L129.73 568.07 L129.92 568.10 L130.12 568.12 L130.31 568.13 L130.50 568.15 L130.69 568.17 L130.88 568.19 L131.08 568.21 L131.27 568.23 L131.46 568.24 L131.65 568.26 L131.84 568.28 L132.03 568.29 L132.23 568.31 L132.42 568.32 L132.61 568.34 L132.80 568.35 L132.99 568.37 L133.19 568.38 L133.38 568.40 L133.57 568.41 L133.76 568.42 L133.95 568.44 L134.14 568.45 L134.34 568.46 L134.53 568.47 L134.72 568.49 L134.91 568.50 L135.10 568.51 L135.30 568.52 L135.49 568.53 L135.68 568.54 L135.87 568.55 L136.06 568.56 L136.26 568.57 L136.45 568.58 L136.64 568.59 L136.83 568.60 L137.02 568.61 L137.21 568.62 L137.41 568.63 L137.60 568.64 L137.79 568.65 L137.98 568.65 L138.17 568.66 L138.37 568.67 L138.56 568.68 L138.75 568.69 L138.94 568.69 L139.13 568.70 L139.32 568.71 L139.52 568.71 L139.71 568.72 L139.90 568.73 L140.09 568.73 L140.28 568.74 L140.48 568.75 L140.67 568.75 L140.86 568.76 L141.05 568.76 L141.24 568.77 L141.44 568.78 L141.63 568.78 L141.82 568.79 L142.01 568.79 L142.20 568.80 L142.39 568.80 L142.59 568.81 L142.78 568.81 L142.97 568.82 L143.16 568.82 L143.35 568.83 L143.55 568.83 L143.74 568.83 L143.93 568.84 L144.12 568.84 L144.31 568.85 L144.51 568.85 L144.70 568.86 L144.89 568.86 L145.08 568.86 L145.27 568.87 L145.46 568.87 L145.66 568.87 L145.85 568.88 L146.04 568.88 L146.23 568.88 L146.42 568.89 L146.62 568.89 L146.81 568.89 L147.00 568.90 L147.19 568.90 L147.38 568.90 L147.57 568.90 L147.77 568.91 L147.96 568.91 L148.15 568.91 L148.34 568.91 L148.53 568.92 L148.73 568.92 L148.92 568.92 L149.11 568.92 L149.30 568.93 L149.49 568.93 L149.69 568.93 L149.88 568.93 L150.07 568.94 L150.26 568.94 L150.45 568.94 L150.64 568.94 L150.84 568.94 L151.03 568.95 L151.22 568.95 L151.41 568.95 L151.60 568.95 L151.80 568.95 L151.99 568.95 L152.18 568.96 L152.37 568.96 L152.56 568.96 L152.76 568.96 L152.95 568.96 L153.14 568.96 L153.33 568.97 L153.52 568.97 L153.71 568.97 L153.91 568.97 L154.10 568.97 L154.29 568.97 L154.48 568.97 L154.67 568.97 L154.87 568.98 L155.06 568.98 L155.25 568.98 L155.44 568.98 L155.63 568.98 L155.82 568.98 L156.02 568.98 L156.21 568.98 L156.40 568.99 L156.59 568.99 L156.78 568.99 L156.98 568.99 L157.17 568.99 L157.36 568.99 L157.55 568.99 L157.74 568.99 L157.94 568.99 L158.13 568.99 L158.32 568.99 L158.51 569.00 L158.70 569.00 L158.89 569.00 L159.09 569.00 L159.28 569.00 L159.47 569.00 L159.66 569.00 L159.85 569.00 L160.05 569.00 L160.24 569.00 L160.43 569.00 L160.62 569.00 L160.81 569.00 L161.00 569.00 L161.20 569.01 L161.39 569.01 L161.58 569.01 L161.77 569.01 L161.96 569.01 L162.16 569.01 L162.35 569.01 L162.54 569.01 L162.73 569.01 L162.92 569.01 L163.12 569.01 L163.31 569.01 L163.50 569.01 L163.69 569.01 L163.88 569.01 L164.07 569.01 L164.27 569.01 L164.46 569.01 L164.65 569.01 L164.84 569.01 L165.03 569.01 L165.23 569.02 L165.42 569.02 L165.61 569.02 L165.80 569.02 L165.99 569.02 L166.19 569.02 L166.38 569.02 L166.57 569.02 L166.76 569.02 L166.95 569.02 L167.14 569.02 L167.34 569.02 L167.53 569.02 L167.72 569.02 L167.91 569.02 L168.10 569.02 L168.30 569.02 L168.49 569.02 L168.68 569.02 L168.87 569.02 L169.06 569.02 L169.25 569.02 L169.45 569.02 L169.64 569.02 L169.83 569.02 L170.02 569.02 L170.21 569.02 L170.41 569.02 L170.60 569.02 L170.79 569.02 L170.98 569.02 L171.17 569.02 L171.37 569.02 L171.56 569.02 L171.75 569.02 L171.94 569.02 L172.13 569.02 L172.32 569.02 L172.52 569.02 L172.71 569.03 L172.90 569.03 L173.09 569.03 L173.28 569.03 L173.48 569.03 L173.67 569.03 L173.86 569.03 L174.05 569.03 L174.24 569.03 L174.44 569.03 L174.63 569.03 L174.82 569.03 L175.01 569.03 L175.20 569.03 L175.39 569.03 L175.59 569.03 L175.78 569.03 L175.97 569.03 L176.16 569.03 L176.35 569.03 L176.55 569.03 L176.74 569.03 L177.62 569.03 L178.50 569.03 L179.38 569.03 L180.25 569.03 L181.13 569.03 L182.01 569.03 L182.89 569.03 L183.77 569.03 L184.65 569.03 L185.53 569.03 L186.41 569.03 L187.29 569.03 L188.17 569.03 L189.05 569.03 L189.93 569.03 L190.81 569.03 L191.69 569.03 L192.57 569.03 L193.45 569.03 L194.32 569.03 L195.20 569.03 L196.08 569.03 L196.96 569.03 L197.84 569.03 L198.72 569.03 L199.60 569.03 L200.48 569.03 L201.36 569.03 L202.24 569.03 L203.12 569.03 L204.00 569.03 L204.88 569.03 L205.76 569.03 L206.64 569.03 L207.51 569.03 L208.39 569.03 L209.27 569.03 L210.15 569.03 L211.03 569.03 L211.91 569.03 L212.79 569.03 L213.67 569.03 L214.55 569.03 L215.43 569.03 L216.31 569.03 L217.19 569.03 L218.07 569.03 L218.95 569.03 L219.83 569.03 L220.70 569.03 L221.58 569.03 L222.46 569.03 L223.34 569.03 L224.22 569.03 L225.10 569.03 L225.98 569.03 L226.86 569.03 L227.74 569.03 L228.62 569.03 L229.50 569.03 L230.38 569.03 L231.26 569.03 L232.14 569.03 L233.02 569.03 L233.90 569.03 L234.77 569.03 L235.65 569.03 L236.53 569.03 L237.41 569.03 L238.29 569.03 L239.17 569.03 L240.05 569.03 L240.93 569.03 L241.81 569.03 L242.69 569.03 L243.57 569.03 L244.45 569.03 L245.33 569.03 L246.21 569.03 L247.09 569.03 L247.96 569.03 L248.84 569.03 L249.72 569.03 L250.60 569.03 L251.48 569.03 L252.36 569.03 L253.24 569.03 L254.12 569.03 L255.00 569.03 L255.88 569.03 L256.76 569.03 L257.64 569.03 L258.52 569.03 L259.40 569.03 L260.28 569.03 L261.16 569.03 L262.03 569.03 L262.91 569.03 L263.79 569.03 L264.67 569.03 L265.55 569.03 L266.43 569.03 L267.31 569.03 L268.19 569.03 L269.07 569.03 L269.95 569.03 L270.83 569.03 L271.71 569.03 L272.59 569.03 L273.47 569.03 L274.35 569.03 L275.22 569.03 L276.10 569.03 L276.98 569.03 L277.86 569.03 L278.74 569.03 L279.62 569.03 L280.50 569.03 L281.38 569.03 L282.26 569.03 L283.14 569.03 L284.02 569.03 L284.90 569.03 L285.78 569.03 L286.66 569.03 L287.54 569.03 L288.42 569.03 L289.29 569.03 L290.17 569.03 L291.05 569.03 L291.93 569.03 L292.81 569.03 L293.69 569.03 L294.57 569.03 L295.45 569.03 L296.33 569.03 L297.21 569.03 L298.09 569.03 L298.97 569.03 L299.85 569.03 L300.73 569.03 L301.61 569.03 L302.48 569.03 L303.36 569.03 L304.24 569.03 L305.12 569.03 L306.00 569.03 L306.88 569.03 L307.76 569.03 L308.64 569.03 L309.52 569.03 L310.40 569.03 L311.28 569.03 L312.16 569.03 L313.04 569.03 L313.92 569.03 L314.80 569.03 L315.67 569.03 L316.55 569.03 L317.43 569.03 L318.31 569.03 L319.19 569.03 L320.07 569.03 L320.95 569.03 L321.83 569.03 L322.71 569.03 L323.59 569.03 L324.47 569.03 L325.35 569.03 L326.23 569.03 L327.11 569.03 L327.99 569.03 L328.87 569.03 L329.74 569.03 L330.62 569.03 L331.50 569.03 L332.38 569.03 L333.26 569.03 L334.14 569.03 L335.02 569.03 L335.90 569.03 L336.78 569.03 L337.66 569.03 L338.54 569.03 L339.42 569.03 L340.30 569.03 L341.18 569.03 L342.06 569.03 L342.93 569.03 L343.81 569.03 L344.69 569.03 L345.57 569.03 L346.45 569.03 L347.33 569.03 L348.21 569.03 L349.09 569.03 L349.97 569.03 L350.85 569.03 L351.73 569.03 L352.61 569.03 L353.49 569.03 L354.37 569.03 L355.25 569.03 L356.13 569.03 L357.00 569.03 L357.88 569.03 L358.76 569.03 L359.64 569.03 L360.52 569.03 L361.40 569.03 L362.28 569.03 L363.16 569.03 L364.04 569.03 L364.92 569.03 L365.80 569.03 L366.68 569.03 L367.56 569.03 L368.44 569.03 L369.32 569.03 L370.19 569.03 L371.07 569.03 L371.95 569.03 L372.83 569.03 L373.71 569.03 L374.59 569.03 L375.47 569.03 L376.35 569.03 L377.23 569.03 L378.11 569.03 L378.99 569.03 L379.87 569.03 L380.75 569.03 L381.63 569.03 L382.51 569.03 L383.39 569.03 L384.26 569.03 L385.14 569.03 L386.02 569.03 L386.90 569.03 L387.78 569.03 L388.66 569.03 L389.54 569.03 L390.42 569.03 L391.30 569.03 L392.18 569.03 L393.06 569.03 L393.94 569.03 L394.82 569.03 L395.70 569.03 L396.58 569.03 L397.45 569.03 L398.33 569.03 L399.21 569.03 L400.09 569.03 L400.97 569.03 L401.85 569.03 L402.73 569.03 L403.61 569.03 L404.49 569.03 L405.37 569.03 L406.25 569.03 L407.13 569.03 L408.01 569.03 L408.89 569.03 L409.77 569.03 L410.64 569.03 L411.52 569.03 L412.40 569.03 L413.28 569.03 L414.16 569.03 L415.04 569.03 L415.92 569.03 L416.80 569.03 L417.68 569.03 L418.56 569.03 L419.44 569.03 L420.32 569.03 L421.20 569.03 L422.08 569.03 L422.96 569.03 L423.84 569.03 L424.71 569.03 L425.59 569.03 L426.47 569.03 L427.35 569.03 L428.23 569.03 L429.11 569.03 L429.99 569.03 L430.87 569.03 L431.75 569.03 L432.63 569.03 L433.51 569.03 L434.39 569.03 L435.27 569.03 L436.15 569.03 L437.03 569.03 L437.90 569.03 L438.78 569.03 L439.66 569.03 L440.54 569.03 L451.82 569.03 L463.09 569.03 L474.36 569.03 L485.64 569.03 L496.91 569.03 L508.19 569.03 L519.46 569.03 L530.73 569.03 L542.01 569.03 L553.28 569.03 L564.55 569.03 L575.83 569.03 L587.10 569.03 L598.38 569.03 L609.65 569.03 L620.92 569.03 L632.20 569.03 L643.47 569.03 L654.74 569.03 L666.02 569.03 L677.29 569.03 L688.57 569.03 L699.84 569.03 L711.11 569.03 L722.39 569.03 L733.66 569.03 L744.93 569.03 L756.21 569.03 L767.48 569.03 L778.76 569.03 L790.03 569.03 L801.30 569.03 L812.58 569.03 L823.85 569.03 L835.12 569.03 L846.40 569.03 L857.67 569.03 L868.95 569.03 L880.22 569.03" stroke="#ff0000" stroke-width="5.76" stroke-dasharray="23.034 23.034"/>
<path d="M80.81 38.50 L81.00 39.64 L81.19 40.83 L81.38 42.05 L81.58 43.30 L81.77 44.59 L81.96 45.90 L82.15 47.24 L82.34 48.60 L82.53 49.98 L82.73 51.38 L82.92 52.80 L83.11 54.24 L83.30 55.69 L83.49 57.15 L83.69 58.63 L83.88 60.11 L84.07 61.60 L84.26 63.10 L84.45 64.61 L84.65 66.13 L84.84 67.65 L85.03 69.17 L85.22 70.70 L85.41 72.23 L85.60 73.77 L85.80 75.31 L85.99 76.85 L86.18 78.39 L86.37 79.93 L86.56 81.47 L86.76 83.02 L86.95 84.56 L87.14 86.10 L87.33 87.65 L87.52 89.19 L87.71 90.73 L87.91 92.27 L88.10 93.80 L88.29 95.34 L88.48 96.87 L88.67 98.41 L88.87 99.94 L89.06 101.46 L89.25 102.99 L89.44 104.51 L89.63 106.03 L89.83 107.55 L90.02 109.06 L90.21 110.58 L90.40 112.09 L90.59 113.59 L90.78 115.10 L90.98 116.60 L91.17 118.09 L91.36 119.59 L91.55 121.08 L91.74 122.56 L91.94 124.05 L92.13 125.53 L92.32 127.01 L92.51 128.48 L92.70 129.95 L92.90 131.42 L93.09 132.88 L93.28 134.34 L93.47 135.80 L93.66 137.25 L93.85 138.70 L94.05 140.15 L94.24 141.59 L94.43 143.03 L94.62 144.47 L94.81 145.90 L95.01 147.33 L95.20 148.75 L95.39 150.17 L95.58 151.59 L95.77 153.01 L95.96 154.42 L96.16 155.83 L96.35 157.23 L96.54 158.63 L96.73 160.03 L96.92 161.42 L97.12 162.81 L97.31 164.20 L97.50 165.58 L97.69 166.96 L97.88 168.33 L98.08 169.70 L98.27 171.07 L98.46 172.44 L98.65 173.80 L98.84 175.16 L99.03 176.51 L99.23 177.86 L99.42 179.21 L99.61 180.55 L99.80 181.89 L99.99 183.23 L100.19 184.56 L100.38 185.89 L100.57 187.22 L100.76 188.54 L100.95 189.86 L101.15 191.18 L101.34 192.49 L101.53 193.80 L101.72 195.10 L101.91 196.40 L102.10 197.70 L102.30 199.00 L102.49 200.29 L102.68 201.58 L102.87 202.86 L103.06 204.14 L103.26 205.42 L103.45 206.69 L103.64 207.96 L103.83 209.23 L104.02 210.49 L104.21 211.76 L104.41 213.01 L104.60 214.27 L104.79 215.52 L104.98 216.76 L105.17 218.01 L105.37 219.25 L105.56 220.48 L105.75 221.72 L105.94 222.95 L106.13 224.17 L106.33 225.40 L106.52 226.62 L106.71 227.83 L106.90 229.05 L107.09 230.26 L107.28 231.47 L107.48 232.67 L107.67 233.87 L107.86 235.07 L108.05 236.26 L108.24 237.45 L108.44 238.64 L108.63 239.82 L108.82 241.00 L109.01 242.18 L109.20 243.35 L109.40 244.52 L109.59 245.69 L109.78 246.86 L109.97 248.02 L110.16 249.17 L110.35 250.33 L110.55 251.48 L110.74 252.63 L110.93 253.77 L111.12 254.92 L111.31 256.05 L111.51 257.19 L111.70 258.32 L111.89 259.45 L112.08 260.58 L112.27 261.70 L112.46 262.82 L112.66 263.94 L112.85 265.05 L113.04 266.16 L113.23 267.27 L113.42 268.37 L113.62 269.47 L113.81 270.57 L114.00 271.67 L114.19 272.76 L114.38 273.85 L114.58 274.93 L114.77 276.01 L114.96 277.09 L115.15 278.17 L115.34 279.24 L115.53 280.31 L115.73 281.38 L115.92 282.45 L116.11 283.51 L116.30 284.57 L116.49 285.62 L116.69 286.67 L116.88 287.72 L117.07 288.77 L117.26 289.81 L117.45 290.85 L117.64 291.89 L117.84 292.92 L118.03 293.95 L118.22 294.98 L118.41 296.01 L118.60 297.03 L118.80 298.05 L118.99 299.07 L119.18 300.08 L119.37 301.09 L119.56 302.10 L119.76 303.11 L119.95 304.11 L120.14 305.11 L120.33 306.10 L120.52 307.10 L120.71 308.09 L120.91 309.08 L121.10 310.06 L121.29 311.04 L121.48 312.02 L121.67 313.00 L121.87 313.97 L122.06 314.94 L122.25 315.91 L122.44 316.88 L122.63 317.84 L122.83 318.80 L123.02 319.76 L123.21 320.71 L123.40 321.66 L123.59 322.61 L123.78 323.55 L123.98 324.50 L124.17 325.44 L124.36 326.38 L124.55 327.31 L124.74 328.24 L124.94 329.17 L125.13 330.10 L125.32 331.02 L125.51 331.94 L125.70 332.86 L125.89 333.78 L126.09 334.69 L126.28 335.60 L126.47 336.51 L126.66 337.41 L126.85 338.32 L127.05 339.22 L127.24 340.11 L127.43 341.01 L127.62 341.90 L127.81 342.79 L128.01 343.68 L128.20 344.56 L128.39 345.44 L128.58 346.32 L128.77 347.20 L128.96 348.07 L129.16 348.94 L129.35 349.81 L129.54 350.68 L129.73 351.54 L129.92 352.40 L130.12 353.26 L130.31 354.12 L130.50 354.97 L130.69 355.82 L130.88 356.67 L131.08 357.51 L131.27 358.36 L131.46 359.20 L131.65 360.04 L131.84 360.87 L132.03 361.70 L132.23 362.54 L132.42 363.36 L132.61 364.19 L132.80 365.01 L132.99 365.83 L133.19 366.65 L133.38 367.47 L133.57 368.28 L133.76 369.09 L133.95 369.90 L134.14 370.71 L134.34 371.51 L134.53 372.31 L134.72 373.11 L134.91 373.91 L135.10 374.70 L135.30 375.50 L135.49 376.28 L135.68 377.07 L135.87 377.86 L136.06 378.64 L136.26 379.42 L136.45 380.20 L136.64 380.97 L136.83 381.75 L137.02 382.52 L137.21 383.29 L137.41 384.05 L137.60 384.82 L137.79 385.58 L137.98 386.34 L138.17 387.09 L138.37 387.85 L138.56 388.60 L138.75 389.35 L138.94 390.10 L139.13 390.85 L139.32 391.59 L139.52 392.33 L139.71 393.07 L139.90 393.81 L140.09 394.54 L140.28 395.27 L140.48 396.00 L140.67 396.73 L140.86 397.46 L141.05 398.18 L141.24 398.90 L141.44 399.62 L141.63 400.34 L141.82 401.05 L142.01 401.76 L142.20 402.47 L142.39 403.18 L142.59 403.89 L142.78 404.59 L142.97 405.30 L143.16 405.99 L143.35 406.69 L143.55 407.39 L143.74 408.08 L143.93 408.77 L144.12 409.46 L144.31 410.15 L144.51 410.83 L144.70 411.52 L144.89 412.20 L145.08 412.88 L145.27 413.55 L145.46 414.23 L145.66 414.90 L145.85 415.57 L146.04 416.24 L146.23 416.91 L146.42 417.57 L146.62 418.23 L146.81 418.89 L147.00 419.55 L147.19 420.21 L147.38 420.86 L147.57 421.51 L147.77 422.16 L147.96 422.81 L148.15 423.46 L148.34 424.10 L148.53 424.75 L148.73 425.39 L148.92 426.02 L149.11 426.66 L149.30 427.30 L149.49 427.93 L149.69 428.56 L149.88 429.19 L150.07 429.81 L150.26 430.44 L150.45 431.06 L150.64 431.68 L150.84 432.30 L151.03 432.92 L151.22 433.53 L151.41 434.15 L151.60 434.76 L151.80 435.37 L151.99 435.98 L152.18 436.58 L152.37 437.19 L152.56 437.79 L152.76 438.39 L152.95 438.99 L153.14 439.58 L153.33 440.18 L153.52 440.77 L153.71 441.36 L153.91 441.95 L154.10 442.54 L154.29 443.13 L154.48 443.71 L154.67 444.29 L154.87 444.87 L155.06 445.45 L155.25 446.03 L155.44 446.60 L155.63 447.18 L155.82 447.75 L156.02 448.32 L156.21 448.88 L156.40 449.45 L156.59 450.02 L156.78 450.58 L156.98 451.14 L157.17 451.70 L157.36 452.26 L157.55 452.81 L157.74 453.36 L157.94 453.92 L158.13 454.47 L158.32 455.02 L158.51 455.56 L158.70 456.11 L158.89 456.65 L159.09 457.19 L159.28 457.74 L159.47 458.27 L159.66 458.81 L159.85 459.35 L160.05 459.88 L160.24 460.41 L160.43 460.94 L160.62 461.47 L160.81 462.00 L161.00 462.52 L161.20 463.05 L161.39 463.57 L161.58 464.09 L161.77 464.61 L161.96 465.13 L162.16 465.64 L162.35 466.16 L162.54 466.67 L162.73 467.18 L162.92 467.69 L163.12 468.20 L163.31 468.70 L163.50 469.21 L163.69 469.71 L163.88 470.21 L164.07 470.71 L164.27 471.21 L164.46 471.71 L164.65 472.20 L164.84 472.70 L165.03 473.19 L165.23 473.68 L165.42 474.17 L165.61 474.65 L165.80 475.14 L165.99 475.63 L166.19 476.11 L166.38 476.59 L166.57 477.07 L166.76 477.55 L166.95 478.03 L167.14 478.50 L167.34 478.97 L167.53 479.45 L167.72 479.92 L167.91 480.39 L168.10 480.86 L168.30 481.32 L168.49 481.79 L168.68 482.25 L168.87 482.71 L169.06 483.17 L169.25 483.63 L169.45 484.09 L169.64 484.55 L169.83 485.00 L170.02 485.46 L170.21 485.91 L170.41 486.36 L170.60 486.81 L170.79 487.26 L170.98 487.70 L171.17 488.15 L171.37 488.59 L171.56 489.03 L171.75 489.48 L171.94 489.92 L172.13 490.35 L172.32 490.79 L172.52 491.23 L172.71 491.66 L172.90 492.09 L173.09 492.52 L173.28 492.95 L173.48 493.38 L173.67 493.81 L173.86 494.24 L174.05 494.66 L174.24 495.08 L174.44 495.51 L174.63 495.93 L174.82 496.35 L175.01 496.76 L175.20 497.18 L175.39 497.60 L175.59 498.01 L175.78 498.42 L175.97 498.83 L176.16 499.24 L176.35 499.65 L176.55 500.06 L176.74 500.47 L177.62 502.31 L178.50 504.13 L179.38 505.93 L180.25 507.69 L181.13 509.44 L182.01 511.15 L182.89 512.84 L183.77 514.51 L184.65 516.16 L185.53 517.78 L186.41 519.37 L187.29 520.95 L188.17 522.50 L189.05 524.03 L189.93 525.53 L190.81 527.02 L191.69 528.48 L192.57 529.92 L193.45 531.34 L194.32 532.74 L195.20 534.12 L196.08 535.48 L196.96 536.82 L197.84 538.15 L198.72 539.45 L199.60 540.73 L200.48 541.99 L201.36 543.24 L202.24 544.47 L203.12 545.68 L204.00 546.87 L204.88 548.05 L205.76 549.20 L206.64 550.34 L207.51 551.47 L208.39 552.58 L209.27 553.67 L210.15 554.74 L211.03 555.80 L211.91 556.85 L212.79 557.88 L213.67 558.89 L214.55 559.89 L215.43 560.88 L216.31 561.85 L217.19 562.81 L218.07 563.75 L218.95 564.68 L219.83 565.59 L220.70 566.50 L221.58 567.38 L222.46 568.26 L223.34 569.12 L224.22 569.97 L225.10 570.81 L225.98 571.64 L226.86 572.45 L227.74 573.25 L228.62 574.04 L229.50 574.82 L230.38 575.59 L231.26 576.34 L232.14 577.09 L233.02 577.82 L233.90 578.55 L234.77 579.26 L235.65 579.96 L236.53 580.65 L237.41 581.33 L238.29 582.00 L239.17 582.67 L240.05 583.32 L240.93 583.96 L241.81 584.59 L242.69 585.22 L243.57 585.83 L244.45 586.44 L245.33 587.03 L246.21 587.62 L247.09 588.20 L247.96 588.77 L248.84 589.34 L249.72 589.89 L250.60 590.44 L251.48 590.97 L252.36 591.50 L253.24 592.03 L254.12 592.54 L255.00 593.05 L255.88 593.55 L256.76 594.04 L257.64 594.53 L258.52 595.00 L259.40 595.47 L260.28 595.94 L261.16 596.40 L262.03 596.85 L262.91 597.29 L263.79 597.73 L264.67 598.16 L265.55 598.58 L266.43 599.00 L267.31 599.41 L268.19 599.82 L269.07 600.22 L269.95 600.62 L270.83 601.00 L271.71 601.39 L272.59 601.76 L273.47 602.14 L274.35 602.50 L275.22 602.86 L276.10 603.22 L276.98 603.57 L277.86 603.91 L278.74 604.25 L279.62 604.59 L280.50 604.92 L281.38 605.24 L282.26 605.56 L283.14 605.88 L284.02 606.19 L284.90 606.50 L285.78 606.80 L286.66 607.10 L287.54 607.39 L288.42 607.68 L289.29 607.96 L290.17 608.24 L291.05 608.52 L291.93 608.79 L292.81 609.06 L293.69 609.33 L294.57 609.59 L295.45 609.84 L296.33 610.09 L297.21 610.34 L298.09 610.59 L298.97 610.83 L299.85 611.07 L300.73 611.30 L301.61 611.54 L302.48 611.76 L303.36 611.99 L304.24 612.21 L305.12 612.43 L306.00 612.64 L306.88 612.85 L307.76 613.06 L308.64 613.27 L309.52 613.47 L310.40 613.67 L311.28 613.86 L312.16 614.06 L313.04 614.25 L313.92 614.44 L314.80 614.62 L315.67 614.80 L316.55 614.98 L317.43 615.16 L318.31 615.34 L319.19 615.51 L320.07 615.68 L320.95 615.84 L321.83 616.01 L322.71 616.17 L323.59 616.33 L324.47 616.49 L325.35 616.64 L326.23 616.79 L327.11 616.95 L327.99 617.09 L328.87 617.24 L329.74 617.38 L330.62 617.52 L331.50 617.66 L332.38 617.80 L333.26 617.94 L334.14 618.07 L335.02 618.20 L335.90 618.33 L336.78 618.46 L337.66 618.59 L338.54 618.71 L339.42 618.83 L340.30 618.95 L341.18 619.07 L342.06 619.19 L342.93 619.30 L343.81 619.42 L344.69 619.53 L345.57 619.64 L346.45 619.75 L347.33 619.85 L348.21 619.96 L349.09 620.06 L349.97 620.17 L350.85 620.27 L351.73 620.37 L352.61 620.46 L353.49 620.56 L354.37 620.65 L355.25 620.75 L356.13 620.84 L357.00 620.93 L357.88 621.02 L358.76 621.11 L359.64 621.20 L360.52 621.28 L361.40 621.36 L362.28 621.45 L363.16 621.53 L364.04 621.61 L364.92 621.69 L365.80 621.77 L366.68 621.85 L367.56 621.92 L368.44 622.00 L369.32 622.07 L370.19 622.14 L371.07 622.21 L371.95 622.28 L372.83 622.35 L373.71 622.42 L374.59 622.49 L375.47 622.56 L376.35 622.62 L377.23 622.69 L378.11 622.75 L378.99 622.81 L379.87 622.87 L380.75 622.94 L381.63 623.00 L382.51 623.05 L383.39 623.11 L384.26 623.17 L385.14 623.23 L386.02 623.28 L386.90 623.34 L387.78 623.39 L388.66 623.44 L389.54 623.50 L390.42 623.55 L391.30 623.60 L392.18 623.65 L393.06 623.70 L393.94 623.75 L394.82 623.79 L395.70 623.84 L396.58 623.89 L397.45 623.93 L398.33 623.98 L399.21 624.02 L400.09 624.07 L400.97 624.11 L401.85 624.15 L402.73 624.20 L403.61 624.24 L404.49 624.28 L405.37 624.32 L406.25 624.36 L407.13 624.40 L408.01 624.43 L408.89 624.47 L409.77 624.51 L410.64 624.55 L411.52 624.58 L412.40 624.62 L413.28 624.65 L414.16 624.69 L415.04 624.72 L415.92 624.76 L416.80 624.79 L417.68 624.82 L418.56 624.85 L419.44 624.89 L420.32 624.92 L421.20 624.95 L422.08 624.98 L422.96 625.01 L423.84 625.04 L424.71 625.07 L425.59 625.09 L426.47 625.12 L427.35 625.15 L428.23 625.18 L429.11 625.20 L429.99 625.23 L430.87 625.26 L431.75 625.28 L432.63 625.31 L433.51 625.33 L434.39 625.36 L435.27 625.38 L436.15 625.41 L437.03 625.43 L437.90 625.45 L438.78 625.47 L439.66 625.50 L440.54 625.52 L451.82 625.78 L463.09 625.99 L474.36 626.16 L485.64 626.31 L496.91 626.43 L508.19 626.53 L519.46 626.61 L530.73 626.68 L542.01 626.73 L553.28 626.78 L564.55 626.82 L575.83 626.85 L587.10 626.88 L598.38 626.90 L609.65 626.91 L620.92 626.93 L632.20 626.94 L643.47 626.95 L654.74 626.96 L666.02 626.97 L677.29 626.97 L688.57 626.98 L699.84 626.98 L711.11 626.98 L722.39 626.99 L733.66 626.99 L744.93 626.99 L756.21 626.99 L767.48 626.99 L778.76 627.00 L790.03 627.00 L801.30 627.00 L812.58 627.00 L823.85 627.00 L835.12 627.00 L846.40 627.00 L857.67 627.00 L868.95 627.00 L880.22 627.00" stroke="#00ff00" stroke-width="5.76" stroke-dasharray="23.061 5.765 11.531 5.765"/>
</g>
<text transform="translate(85.30 635.30) scale(1.1950 1.0000)" font-size="23.2" text-anchor="end" font-weight="normal" fill="#262626" >0</text>
<text transform="translate(85.30 576.45) scale(1.1950 1.0000)" font-size="23.2" text-anchor="end" font-weight="normal" fill="#262626" >20</text>
<text transform="translate(85.30 517.60) scale(1.1950 1.0000)" font-size="23.2" text-anchor="end" font-weight="normal" fill="#262626" >40</text>
<text transform="translate(85.30 458.75) scale(1.1950 1.0000)" font-size="23.2" text-anchor="end" font-weight="normal" fill="#262626" >60</text>
<text transform="translate(85.30 399.90) scale(1.1950 1.0000)" font-size="23.2" text-anchor="end" font-weight="normal" fill="#262626" >80</text>
<text transform="translate(85.30 341.05) scale(1.1950 1.0000)" font-size="23.2" text-anchor="end" font-weight="normal" fill="#262626" >100</text>
<text transform="translate(85.30 282.20) scale(1.1950 1.0000)" font-size="23.2" text-anchor="end" font-weight="normal" fill="#262626" >120</text>
<text transform="translate(85.30 223.35) scale(1.1950 1.0000)" font-size="23.2" text-anchor="end" font-weight="normal" fill="#262626" >140</text>
<text transform="translate(85.30 164.50) scale(1.1950 1.0000)" font-size="23.2" text-anchor="end" font-weight="normal" fill="#262626" >160</text>
<text transform="translate(85.30 105.65) scale(1.1950 1.0000)" font-size="23.2" text-anchor="end" font-weight="normal" fill="#262626" >180</text>
<text transform="translate(85.30 46.80) scale(1.1950 1.0000)" font-size="23.2" text-anchor="end" font-weight="normal" fill="#262626" >200</text>
<text transform="translate(95.80 657.80) scale(1.1950 1.0000)" font-size="23.2" text-anchor="middle" font-weight="normal" fill="#262626" >0</text>
<text transform="translate(190.77 657.80) scale(1.1950 1.0000)" font-size="23.2" text-anchor="middle" font-weight="normal" fill="#262626" >10</text>
<text transform="translate(285.74 657.80) scale(1.1950 1.0000)" font-size="23.2" text-anchor="middle" font-weight="normal" fill="#262626" >20</text>
<text transform="translate(380.71 657.80) scale(1.1950 1.0000)" font-size="23.2" text-anchor="middle" font-weight="normal" fill="#262626" >30</text>
<text transform="translate(475.68 657.80) scale(1.1950 1.0000)" font-size="23.2" text-anchor="middle" font-weight="normal" fill="#262626" >40</text>
<text transform="translate(570.65 657.80) scale(1.1950 1.0000)" font-size="23.2" text-anchor="middle" font-weight="normal" fill="#262626" >50</text>
<text transform="translate(665.62 657.80) scale(1.1950 1.0000)" font-size="23.2" text-anchor="middle" font-weight="normal" fill="#262626" >60</text>
<text transform="translate(760.59 657.80) scale(1.1950 1.0000)" font-size="23.2" text-anchor="middle" font-weight="normal" fill="#262626" >70</text>
<text transform="translate(855.56 657.80) scale(1.1950 1.0000)" font-size="23.2" text-anchor="middle" font-weight="normal" fill="#262626" >80</text>
<text transform="translate(950.53 657.80) scale(1.1950 1.0000)" font-size="23.2" text-anchor="middle" font-weight="normal" fill="#262626" >90</text>
<text transform="translate(1045.50 657.80) scale(1.1950 1.0000)" font-size="23.2" text-anchor="middle" font-weight="normal" fill="#262626" >100</text>
<text transform="translate(570.20 688.90) scale(1.2200 1.0000)" font-size="25" text-anchor="middle" font-weight="normal" fill="#262626" >time</text>
<text transform="translate(25.80 332.30) rotate(-90) scale(1.0000 1.2000)" font-size="26" text-anchor="middle" font-weight="normal" fill="#262626" >Population number</text>
<text transform="translate(570.70 28.60) scale(1.2080 1.0000)" font-size="25.5" text-anchor="middle" font-weight="bold" fill="#000" >Infection dynamics</text>
<text transform="translate(218.20 117.70) scale(1.2200 1.0000)" font-size="27.5" text-anchor="middle" font-weight="normal" fill="#262626" >(a)</text>
<rect x="369.8" y="252" width="359.20" height="186.30" fill="#fff" stroke="#7f7f7f" stroke-width="2.6"/>
<g transform="scale(1.188 1)" fill="none">
<path d="M317.51 278.3 L360.44 278.3" stroke="#000" stroke-width="5.76"/>
<path d="M317.51 323.7 L360.44 323.7" stroke="#0000ff" stroke-width="5.76" stroke-dasharray="5.591 5.937" stroke-dashoffset="-0.3"/>
<path d="M317.51 369.2 L360.44 369.2" stroke="#ff0000" stroke-width="5.76" stroke-dasharray="23.056 23.056"/>
<path d="M317.51 413.8 L360.44 413.8" stroke="#00ff00" stroke-width="5.76" stroke-dasharray="23.056 5.764 11.528 5.764"/>
</g>
<text transform="translate(433.60 281.70) scale(1.2620 1.0000)" font-size="25.8" text-anchor="start" font-weight="normal" fill="#000" stroke="#fff" stroke-width="0.25">Susceptible,S<tspan font-size="22" dy="13.2">0</tspan><tspan dy="-13.2">=10</tspan></text>
<text transform="translate(433.60 327.10) scale(1.2620 1.0000)" font-size="25.8" text-anchor="start" font-weight="normal" fill="#000" stroke="#fff" stroke-width="0.25">Infected, I<tspan font-size="22" dy="13.2">0</tspan><tspan dy="-13.2">=100</tspan></text>
<text transform="translate(433.60 372.90) scale(1.2620 1.0000)" font-size="25.8" text-anchor="start" font-weight="normal" fill="#000" stroke="#fff" stroke-width="0.25">Susceptible,S<tspan font-size="22" dy="13.2">0</tspan><tspan dy="-13.2">=100</tspan></text>
<text transform="translate(433.60 417.60) scale(1.2620 1.0000)" font-size="25.8" text-anchor="start" font-weight="normal" fill="#000" stroke="#fff" stroke-width="0.25">Infected, I<tspan font-size="22" dy="13.2">0</tspan><tspan dy="-13.2">=200</tspan></text>
</g>
<g id="right">
<rect x="1203.40" y="37.25" width="765.70" height="2.90" fill="#8c8c8c"/>
<rect x="1203.40" y="623.95" width="765.70" height="2.90" fill="#8c8c8c"/>
<rect x="1203.40" y="37.25" width="2.60" height="589.60" fill="#8c8c8c"/>
<rect x="1966.50" y="37.25" width="2.60" height="589.60" fill="#8c8c8c"/>
<rect x="1330.78" y="617.10" width="1.6" height="8.3" fill="#2a2a2a"/>
<rect x="1330.78" y="38.70" width="1.6" height="8.3" fill="#2a2a2a"/>
<rect x="1457.97" y="617.10" width="1.6" height="8.3" fill="#2a2a2a"/>
<rect x="1457.97" y="38.70" width="1.6" height="8.3" fill="#2a2a2a"/>
<rect x="1585.15" y="617.10" width="1.6" height="8.3" fill="#2a2a2a"/>
<rect x="1585.15" y="38.70" width="1.6" height="8.3" fill="#2a2a2a"/>
<rect x="1712.33" y="617.10" width="1.6" height="8.3" fill="#2a2a2a"/>
<rect x="1712.33" y="38.70" width="1.6" height="8.3" fill="#2a2a2a"/>
<rect x="1839.52" y="617.10" width="1.6" height="8.3" fill="#2a2a2a"/>
<rect x="1839.52" y="38.70" width="1.6" height="8.3" fill="#2a2a2a"/>
<rect x="1204.70" y="506.96" width="8" height="1.6" fill="#4a4a4a"/>
<rect x="1959.80" y="506.96" width="8" height="1.6" fill="#4a4a4a"/>
<rect x="1204.70" y="389.62" width="8" height="1.6" fill="#4a4a4a"/>
<rect x="1959.80" y="389.62" width="8" height="1.6" fill="#4a4a4a"/>
<rect x="1204.70" y="272.28" width="8" height="1.6" fill="#4a4a4a"/>
<rect x="1959.80" y="272.28" width="8" height="1.6" fill="#4a4a4a"/>
<rect x="1204.70" y="154.94" width="8" height="1.6" fill="#4a4a4a"/>
<rect x="1959.80" y="154.94" width="8" height="1.6" fill="#4a4a4a"/>
<g transform="scale(1 1.05)" fill="none" stroke-linecap="butt" stroke-linejoin="round">
<path d="M1204.70 316.24 L1204.91 319.12 L1205.12 321.94 L1205.34 324.71 L1205.55 327.42 L1205.76 330.09 L1205.97 332.71 L1206.18 335.28 L1206.40 337.80 L1206.61 340.28 L1206.82 342.72 L1207.03 345.11 L1207.24 347.46 L1207.46 349.77 L1207.67 352.04 L1207.88 354.27 L1208.09 356.46 L1208.30 358.62 L1208.52 360.74 L1208.73 362.82 L1208.94 364.88 L1209.15 366.89 L1209.36 368.88 L1209.58 370.84 L1209.79 372.76 L1210.00 374.65 L1210.21 376.52 L1210.42 378.35 L1210.64 380.16 L1210.85 381.94 L1211.06 383.69 L1211.27 385.42 L1211.48 387.12 L1211.70 388.80 L1211.91 390.45 L1212.12 392.08 L1212.33 393.68 L1212.54 395.26 L1212.75 396.82 L1212.97 398.36 L1213.18 399.87 L1213.39 401.37 L1213.60 402.84 L1213.81 404.29 L1214.03 405.73 L1214.24 407.14 L1214.45 408.53 L1214.66 409.91 L1214.87 411.27 L1215.09 412.61 L1215.30 413.93 L1215.51 415.24 L1215.72 416.52 L1215.93 417.80 L1216.15 419.05 L1216.36 420.29 L1216.57 421.51 L1216.78 422.72 L1216.99 423.92 L1217.21 425.09 L1217.42 426.26 L1217.77 428.15 L1218.12 430.00 L1218.47 431.82 L1218.82 433.60 L1219.17 435.34 L1219.52 437.05 L1219.87 438.73 L1220.22 440.38 L1220.57 442.00 L1220.92 443.59 L1221.27 445.15 L1221.62 446.68 L1221.97 448.18 L1222.31 449.66 L1222.66 451.11 L1223.01 452.53 L1223.36 453.93 L1223.71 455.31 L1224.06 456.66 L1224.41 457.99 L1224.76 459.30 L1225.11 460.58 L1225.46 461.85 L1225.81 463.09 L1226.16 464.31 L1226.51 465.52 L1226.86 466.70 L1227.21 467.87 L1227.56 469.02 L1227.91 470.15 L1228.26 471.26 L1228.61 472.35 L1228.96 473.43 L1229.31 474.49 L1229.66 475.54 L1230.01 476.57 L1230.36 477.58 L1230.71 478.59 L1231.06 479.57 L1231.41 480.54 L1231.76 481.50 L1232.11 482.44 L1232.46 483.37 L1232.81 484.29 L1233.16 485.20 L1233.51 486.09 L1233.86 486.97 L1234.21 487.84 L1234.56 488.69 L1234.91 489.54 L1235.26 490.37 L1235.61 491.19 L1235.96 492.00 L1236.31 492.80 L1236.65 493.59 L1237.00 494.37 L1237.35 495.14 L1237.70 495.90 L1238.05 496.65 L1238.40 497.39 L1238.75 498.12 L1239.10 498.84 L1239.45 499.56 L1239.80 500.26 L1240.15 500.96 L1240.50 501.64 L1240.85 502.32 L1241.20 502.99 L1241.55 503.66 L1241.90 504.31 L1242.25 504.96 L1242.60 505.60 L1242.95 506.23 L1243.30 506.85 L1243.65 507.47 L1244.00 508.08 L1244.35 508.68 L1244.70 509.28 L1245.05 509.87 L1245.40 510.45 L1245.75 511.03 L1246.10 511.60 L1246.45 512.16 L1246.80 512.72 L1247.15 513.27 L1247.50 513.81 L1247.85 514.35 L1248.20 514.88 L1248.55 515.41 L1248.90 515.93 L1249.25 516.45 L1249.60 516.96 L1249.95 517.47 L1250.30 517.97 L1250.64 518.46 L1250.99 518.95 L1251.34 519.44 L1251.69 519.92 L1252.04 520.39 L1252.39 520.86 L1252.74 521.33 L1253.09 521.79 L1253.44 522.25 L1253.79 522.70 L1254.14 523.14 L1254.49 523.59 L1254.84 524.03 L1255.19 524.46 L1255.54 524.89 L1255.89 525.32 L1256.24 525.74 L1256.59 526.16 L1256.94 526.57 L1257.29 526.98 L1257.64 527.38 L1257.99 527.79 L1258.34 528.18 L1258.69 528.58 L1259.04 528.97 L1259.39 529.36 L1259.74 529.74 L1260.09 530.12 L1260.44 530.50 L1260.79 530.87 L1261.14 531.24 L1261.49 531.61 L1261.84 531.97 L1262.19 532.33 L1262.54 532.69 L1262.89 533.04 L1263.24 533.39 L1263.59 533.74 L1263.94 534.08 L1264.29 534.43 L1264.64 534.76 L1264.98 535.10 L1265.33 535.43 L1265.68 535.76 L1266.03 536.09 L1266.38 536.41 L1266.73 536.74 L1267.08 537.06 L1267.43 537.37 L1267.78 537.68 L1268.13 538.00 L1268.48 538.30 L1268.83 538.61 L1269.18 538.91 L1269.53 539.21 L1269.88 539.51 L1270.23 539.81 L1270.58 540.10 L1270.93 540.39 L1271.28 540.68 L1271.63 540.97 L1271.98 541.25 L1272.33 541.54 L1272.68 541.82 L1273.03 542.09 L1273.38 542.37 L1273.73 542.64 L1274.08 542.91 L1274.43 543.18 L1274.78 543.45 L1275.13 543.71 L1275.48 543.98 L1275.83 544.24 L1276.18 544.50 L1276.53 544.75 L1276.88 545.01 L1277.23 545.26 L1277.58 545.51 L1277.93 545.76 L1278.28 546.01 L1278.63 546.25 L1278.98 546.50 L1279.32 546.74 L1279.67 546.98 L1280.02 547.22 L1280.37 547.46 L1280.72 547.69 L1281.07 547.92 L1281.42 548.15 L1281.77 548.38 L1282.12 548.61 L1282.47 548.84 L1282.82 549.06 L1283.17 549.29 L1283.52 549.51 L1283.87 549.73 L1284.22 549.95 L1284.57 550.17 L1284.92 550.38 L1285.27 550.60 L1285.62 550.81 L1285.97 551.02 L1286.32 551.23 L1286.67 551.44 L1287.02 551.64 L1287.37 551.85 L1287.72 552.05 L1288.07 552.26 L1288.42 552.46 L1288.77 552.66 L1289.12 552.86 L1289.47 553.05 L1289.82 553.25 L1290.17 553.44 L1290.52 553.64 L1290.87 553.83 L1291.22 554.02 L1291.57 554.21 L1291.92 554.40 L1292.27 554.59 L1292.62 554.77 L1292.97 554.96 L1293.31 555.14 L1293.66 555.32 L1294.01 555.50 L1294.36 555.68 L1294.71 555.86 L1295.06 556.04 L1295.41 556.22 L1295.76 556.39 L1296.11 556.56 L1296.46 556.74 L1296.81 556.91 L1297.16 557.08 L1297.51 557.25 L1297.86 557.42 L1298.21 557.59 L1298.56 557.75 L1298.91 557.92 L1299.26 558.08 L1299.61 558.25 L1299.96 558.41 L1300.31 558.57 L1300.66 558.73 L1301.01 558.89 L1301.36 559.05 L1301.71 559.21 L1302.06 559.37 L1302.41 559.52 L1302.76 559.68 L1303.11 559.83 L1303.46 559.98 L1303.81 560.14 L1304.16 560.29 L1304.51 560.44 L1304.86 560.59 L1305.21 560.74 L1305.56 560.88 L1305.91 561.03 L1306.26 561.18 L1306.61 561.32 L1306.96 561.47 L1307.31 561.61 L1307.65 561.75 L1308.00 561.89 L1308.35 562.04 L1308.70 562.18 L1309.05 562.32 L1309.40 562.45 L1309.75 562.59 L1310.10 562.73 L1310.45 562.87 L1310.80 563.00 L1311.15 563.14 L1311.50 563.27 L1311.85 563.40 L1312.20 563.54 L1312.55 563.67 L1312.90 563.80 L1313.25 563.93 L1313.60 564.06 L1313.95 564.19 L1314.30 564.32 L1314.65 564.44 L1315.00 564.57 L1315.35 564.70 L1315.70 564.82 L1316.05 564.95 L1316.40 565.07 L1316.75 565.19 L1317.10 565.32 L1317.45 565.44 L1317.80 565.56 L1318.15 565.68 L1318.50 565.80 L1318.85 565.92 L1319.20 566.04 L1319.55 566.16 L1319.90 566.27 L1320.25 566.39 L1320.60 566.51 L1320.95 566.62 L1321.30 566.74 L1321.65 566.85 L1321.99 566.97 L1322.34 567.08 L1322.69 567.19 L1323.04 567.30 L1323.39 567.42 L1323.74 567.53 L1324.09 567.64 L1324.44 567.75 L1324.79 567.86 L1325.14 567.96 L1325.49 568.07 L1325.84 568.18 L1326.19 568.29 L1326.54 568.39 L1326.89 568.50 L1327.24 568.60 L1327.59 568.71 L1327.94 568.81 L1328.29 568.92 L1328.64 569.02 L1328.99 569.12 L1329.34 569.23 L1329.69 569.33 L1330.04 569.43 L1330.39 569.53 L1330.74 569.63 L1331.09 569.73 L1331.44 569.83 L1331.79 569.93 L1332.14 570.03 L1332.49 570.12 L1332.84 570.22 L1333.19 570.32 L1333.54 570.41 L1333.89 570.51 L1334.24 570.61 L1334.59 570.70 L1334.94 570.79 L1335.29 570.89 L1335.64 570.98 L1335.98 571.08 L1336.33 571.17 L1336.68 571.26 L1337.03 571.35 L1337.38 571.44 L1337.73 571.53 L1338.08 571.63 L1338.43 571.72 L1338.78 571.81 L1339.13 571.89 L1339.48 571.98 L1339.83 572.07 L1340.18 572.16 L1340.53 572.25 L1340.88 572.33 L1341.23 572.42 L1341.58 572.51 L1341.93 572.59 L1342.28 572.68 L1342.63 572.76 L1342.98 572.85 L1343.33 572.93 L1343.68 573.02 L1344.03 573.10 L1344.38 573.18 L1344.73 573.27 L1345.08 573.35 L1345.43 573.43 L1345.78 573.51 L1346.13 573.59 L1346.48 573.68 L1346.83 573.76 L1347.18 573.84 L1347.53 573.92 L1347.88 574.00 L1348.23 574.07 L1348.58 574.15 L1348.93 574.23 L1349.28 574.31 L1349.63 574.39 L1349.98 574.46 L1350.32 574.54 L1350.67 574.62 L1351.02 574.70 L1351.37 574.77 L1351.72 574.85 L1352.07 574.92 L1352.42 575.00 L1352.77 575.07 L1353.12 575.15 L1353.47 575.22 L1353.82 575.29 L1354.17 575.37 L1354.52 575.44 L1354.87 575.51 L1355.22 575.59 L1355.57 575.66 L1355.92 575.73 L1356.27 575.80 L1356.62 575.87 L1356.97 575.94 L1357.32 576.01 L1359.44 576.44 L1361.56 576.85 L1363.68 577.25 L1365.80 577.64 L1367.92 578.02 L1370.04 578.39 L1372.16 578.75 L1374.28 579.10 L1376.40 579.45 L1378.52 579.78 L1380.64 580.11 L1382.76 580.43 L1384.88 580.75 L1387.00 581.05 L1389.12 581.35 L1391.24 581.65 L1393.36 581.93 L1395.47 582.21 L1397.59 582.48 L1399.71 582.75 L1401.83 583.01 L1403.95 583.27 L1406.07 583.52 L1408.19 583.76 L1410.31 584.00 L1412.43 584.24 L1414.55 584.47 L1416.67 584.69 L1418.79 584.91 L1420.91 585.13 L1423.03 585.34 L1425.15 585.54 L1427.27 585.75 L1429.39 585.94 L1431.51 586.14 L1433.63 586.33 L1435.75 586.51 L1437.87 586.70 L1439.99 586.87 L1442.11 587.05 L1444.23 587.22 L1446.35 587.39 L1448.47 587.55 L1450.59 587.71 L1452.71 587.87 L1454.83 588.03 L1456.95 588.18 L1459.07 588.33 L1461.19 588.48 L1463.31 588.62 L1465.43 588.76 L1467.55 588.90 L1469.67 589.03 L1471.79 589.17 L1473.90 589.30 L1476.02 589.42 L1478.14 589.55 L1480.26 589.67 L1482.38 589.79 L1484.50 589.91 L1486.62 590.02 L1488.74 590.14 L1490.86 590.25 L1492.98 590.36 L1495.10 590.47 L1497.22 590.57 L1499.34 590.67 L1501.46 590.77 L1503.58 590.87 L1505.70 590.97 L1507.82 591.07 L1509.94 591.16 L1512.06 591.25 L1514.18 591.34 L1516.30 591.43 L1518.42 591.52 L1520.54 591.60 L1522.66 591.68 L1524.78 591.77 L1526.90 591.85 L1529.02 591.92 L1531.14 592.00 L1533.26 592.08 L1535.38 592.15 L1537.50 592.22 L1539.62 592.29 L1541.74 592.36 L1543.86 592.43 L1545.98 592.50 L1548.10 592.57 L1550.21 592.63 L1552.33 592.69 L1554.45 592.76 L1556.57 592.82 L1558.69 592.88 L1560.81 592.94 L1562.93 592.99 L1565.05 593.05 L1567.17 593.10 L1569.29 593.16 L1571.41 593.21 L1573.53 593.26 L1575.65 593.31 L1577.77 593.36 L1579.89 593.41 L1582.01 593.46 L1584.13 593.51 L1586.25 593.55 L1588.37 593.60 L1590.49 593.64 L1592.61 593.69 L1594.73 593.73 L1596.85 593.77 L1598.97 593.81 L1601.09 593.85 L1603.21 593.89 L1605.33 593.93 L1607.45 593.97 L1609.57 594.00 L1611.69 594.04 L1623.97 594.23 L1636.25 594.41 L1648.53 594.56 L1660.81 594.69 L1673.09 594.81 L1685.37 594.91 L1697.65 595.01 L1709.92 595.09 L1722.20 595.16 L1734.48 595.22 L1746.76 595.27 L1759.04 595.32 L1771.32 595.36 L1783.60 595.39 L1795.88 595.42 L1808.16 595.45 L1820.44 595.47 L1832.72 595.49 L1845.00 595.51 L1857.28 595.53 L1869.56 595.54 L1881.84 595.55 L1894.12 595.56 L1906.40 595.57 L1918.68 595.58 L1930.96 595.58 L1943.24 595.59 L1955.52 595.59 L1967.80 595.60" stroke="#ff0000" stroke-width="5.5"/>
<path d="M1204.70 36.86 L1204.91 47.42 L1205.12 57.60 L1205.34 67.43 L1205.55 76.91 L1205.76 86.08 L1205.97 94.94 L1206.18 103.50 L1206.40 111.79 L1206.61 119.82 L1206.82 127.59 L1207.03 135.13 L1207.24 142.43 L1207.46 149.52 L1207.67 156.40 L1207.88 163.07 L1208.09 169.56 L1208.30 175.87 L1208.52 181.99 L1208.73 187.95 L1208.94 193.75 L1209.15 199.40 L1209.36 204.89 L1209.58 210.24 L1209.79 215.46 L1210.00 220.54 L1210.21 225.50 L1210.42 230.33 L1210.64 235.04 L1210.85 239.64 L1211.06 244.13 L1211.27 248.52 L1211.48 252.80 L1211.70 256.98 L1211.91 261.07 L1212.12 265.07 L1212.33 268.98 L1212.54 272.80 L1212.75 276.53 L1212.97 280.19 L1213.18 283.77 L1213.39 287.28 L1213.60 290.71 L1213.81 294.07 L1214.03 297.36 L1214.24 300.58 L1214.45 303.74 L1214.66 306.84 L1214.87 309.88 L1215.09 312.85 L1215.30 315.77 L1215.51 318.64 L1215.72 321.45 L1215.93 324.20 L1216.15 326.91 L1216.36 329.57 L1216.57 332.17 L1216.78 334.73 L1216.99 337.25 L1217.21 339.72 L1217.42 342.15 L1217.77 346.06 L1218.12 349.86 L1218.47 353.56 L1218.82 357.15 L1219.17 360.65 L1219.52 364.05 L1219.87 367.37 L1220.22 370.60 L1220.57 373.74 L1220.92 376.81 L1221.27 379.80 L1221.62 382.71 L1221.97 385.55 L1222.31 388.33 L1222.66 391.04 L1223.01 393.68 L1223.36 396.27 L1223.71 398.79 L1224.06 401.26 L1224.41 403.67 L1224.76 406.02 L1225.11 408.33 L1225.46 410.58 L1225.81 412.79 L1226.16 414.95 L1226.51 417.06 L1226.86 419.13 L1227.21 421.16 L1227.56 423.14 L1227.91 425.09 L1228.26 426.99 L1228.61 428.86 L1228.96 430.69 L1229.31 432.49 L1229.66 434.25 L1230.01 435.98 L1230.36 437.67 L1230.71 439.34 L1231.06 440.97 L1231.41 442.57 L1231.76 444.14 L1232.11 445.69 L1232.46 447.20 L1232.81 448.69 L1233.16 450.16 L1233.51 451.59 L1233.86 453.01 L1234.21 454.40 L1234.56 455.76 L1234.91 457.10 L1235.26 458.42 L1235.61 459.72 L1235.96 461.00 L1236.31 462.25 L1236.65 463.49 L1237.00 464.70 L1237.35 465.90 L1237.70 467.08 L1238.05 468.23 L1238.40 469.37 L1238.75 470.50 L1239.10 471.60 L1239.45 472.69 L1239.80 473.76 L1240.15 474.82 L1240.50 475.86 L1240.85 476.89 L1241.20 477.90 L1241.55 478.89 L1241.90 479.87 L1242.25 480.84 L1242.60 481.79 L1242.95 482.73 L1243.30 483.66 L1243.65 484.57 L1244.00 485.47 L1244.35 486.36 L1244.70 487.24 L1245.05 488.10 L1245.40 488.95 L1245.75 489.79 L1246.10 490.62 L1246.45 491.44 L1246.80 492.25 L1247.15 493.05 L1247.50 493.83 L1247.85 494.61 L1248.20 495.38 L1248.55 496.14 L1248.90 496.88 L1249.25 497.62 L1249.60 498.35 L1249.95 499.07 L1250.30 499.78 L1250.64 500.48 L1250.99 501.18 L1251.34 501.86 L1251.69 502.54 L1252.04 503.21 L1252.39 503.87 L1252.74 504.52 L1253.09 505.17 L1253.44 505.80 L1253.79 506.43 L1254.14 507.06 L1254.49 507.67 L1254.84 508.28 L1255.19 508.88 L1255.54 509.48 L1255.89 510.07 L1256.24 510.65 L1256.59 511.22 L1256.94 511.79 L1257.29 512.35 L1257.64 512.91 L1257.99 513.46 L1258.34 514.00 L1258.69 514.54 L1259.04 515.07 L1259.39 515.60 L1259.74 516.12 L1260.09 516.64 L1260.44 517.15 L1260.79 517.65 L1261.14 518.15 L1261.49 518.65 L1261.84 519.14 L1262.19 519.62 L1262.54 520.10 L1262.89 520.57 L1263.24 521.04 L1263.59 521.51 L1263.94 521.97 L1264.29 522.42 L1264.64 522.88 L1264.98 523.32 L1265.33 523.76 L1265.68 524.20 L1266.03 524.64 L1266.38 525.07 L1266.73 525.49 L1267.08 525.91 L1267.43 526.33 L1267.78 526.74 L1268.13 527.15 L1268.48 527.56 L1268.83 527.96 L1269.18 528.36 L1269.53 528.75 L1269.88 529.14 L1270.23 529.53 L1270.58 529.91 L1270.93 530.29 L1271.28 530.67 L1271.63 531.04 L1271.98 531.41 L1272.33 531.78 L1272.68 532.14 L1273.03 532.50 L1273.38 532.86 L1273.73 533.21 L1274.08 533.56 L1274.43 533.91 L1274.78 534.25 L1275.13 534.59 L1275.48 534.93 L1275.83 535.27 L1276.18 535.60 L1276.53 535.93 L1276.88 536.25 L1277.23 536.58 L1277.58 536.90 L1277.93 537.22 L1278.28 537.53 L1278.63 537.85 L1278.98 538.16 L1279.32 538.47 L1279.67 538.77 L1280.02 539.07 L1280.37 539.38 L1280.72 539.67 L1281.07 539.97 L1281.42 540.26 L1281.77 540.55 L1282.12 540.84 L1282.47 541.13 L1282.82 541.41 L1283.17 541.69 L1283.52 541.97 L1283.87 542.25 L1284.22 542.53 L1284.57 542.80 L1284.92 543.07 L1285.27 543.34 L1285.62 543.60 L1285.97 543.87 L1286.32 544.13 L1286.67 544.39 L1287.02 544.65 L1287.37 544.91 L1287.72 545.16 L1288.07 545.41 L1288.42 545.66 L1288.77 545.91 L1289.12 546.16 L1289.47 546.41 L1289.82 546.65 L1290.17 546.89 L1290.52 547.13 L1290.87 547.37 L1291.22 547.60 L1291.57 547.84 L1291.92 548.07 L1292.27 548.30 L1292.62 548.53 L1292.97 548.76 L1293.31 548.99 L1293.66 549.21 L1294.01 549.43 L1294.36 549.66 L1294.71 549.88 L1295.06 550.09 L1295.41 550.31 L1295.76 550.53 L1296.11 550.74 L1296.46 550.95 L1296.81 551.16 L1297.16 551.37 L1297.51 551.58 L1297.86 551.79 L1298.21 551.99 L1298.56 552.19 L1298.91 552.40 L1299.26 552.60 L1299.61 552.80 L1299.96 553.00 L1300.31 553.19 L1300.66 553.39 L1301.01 553.58 L1301.36 553.77 L1301.71 553.97 L1302.06 554.16 L1302.41 554.35 L1302.76 554.53 L1303.11 554.72 L1303.46 554.90 L1303.81 555.09 L1304.16 555.27 L1304.51 555.45 L1304.86 555.63 L1305.21 555.81 L1305.56 555.99 L1305.91 556.17 L1306.26 556.34 L1306.61 556.52 L1306.96 556.69 L1307.31 556.87 L1307.65 557.04 L1308.00 557.21 L1308.35 557.38 L1308.70 557.55 L1309.05 557.71 L1309.40 557.88 L1309.75 558.04 L1310.10 558.21 L1310.45 558.37 L1310.80 558.53 L1311.15 558.69 L1311.50 558.85 L1311.85 559.01 L1312.20 559.17 L1312.55 559.33 L1312.90 559.48 L1313.25 559.64 L1313.60 559.79 L1313.95 559.95 L1314.30 560.10 L1314.65 560.25 L1315.00 560.40 L1315.35 560.55 L1315.70 560.70 L1316.05 560.85 L1316.40 561.00 L1316.75 561.14 L1317.10 561.29 L1317.45 561.43 L1317.80 561.58 L1318.15 561.72 L1318.50 561.86 L1318.85 562.00 L1319.20 562.14 L1319.55 562.28 L1319.90 562.42 L1320.25 562.56 L1320.60 562.70 L1320.95 562.83 L1321.30 562.97 L1321.65 563.10 L1321.99 563.24 L1322.34 563.37 L1322.69 563.50 L1323.04 563.63 L1323.39 563.77 L1323.74 563.90 L1324.09 564.03 L1324.44 564.15 L1324.79 564.28 L1325.14 564.41 L1325.49 564.54 L1325.84 564.66 L1326.19 564.79 L1326.54 564.91 L1326.89 565.04 L1327.24 565.16 L1327.59 565.28 L1327.94 565.40 L1328.29 565.53 L1328.64 565.65 L1328.99 565.77 L1329.34 565.89 L1329.69 566.00 L1330.04 566.12 L1330.39 566.24 L1330.74 566.36 L1331.09 566.47 L1331.44 566.59 L1331.79 566.70 L1332.14 566.82 L1332.49 566.93 L1332.84 567.04 L1333.19 567.16 L1333.54 567.27 L1333.89 567.38 L1334.24 567.49 L1334.59 567.60 L1334.94 567.71 L1335.29 567.82 L1335.64 567.93 L1335.98 568.04 L1336.33 568.14 L1336.68 568.25 L1337.03 568.36 L1337.38 568.46 L1337.73 568.57 L1338.08 568.67 L1338.43 568.78 L1338.78 568.88 L1339.13 568.98 L1339.48 569.08 L1339.83 569.19 L1340.18 569.29 L1340.53 569.39 L1340.88 569.49 L1341.23 569.59 L1341.58 569.69 L1341.93 569.79 L1342.28 569.89 L1342.63 569.98 L1342.98 570.08 L1343.33 570.18 L1343.68 570.27 L1344.03 570.37 L1344.38 570.47 L1344.73 570.56 L1345.08 570.66 L1345.43 570.75 L1345.78 570.84 L1346.13 570.94 L1346.48 571.03 L1346.83 571.12 L1347.18 571.21 L1347.53 571.30 L1347.88 571.40 L1348.23 571.49 L1348.58 571.58 L1348.93 571.67 L1349.28 571.76 L1349.63 571.84 L1349.98 571.93 L1350.32 572.02 L1350.67 572.11 L1351.02 572.20 L1351.37 572.28 L1351.72 572.37 L1352.07 572.45 L1352.42 572.54 L1352.77 572.62 L1353.12 572.71 L1353.47 572.79 L1353.82 572.88 L1354.17 572.96 L1354.52 573.04 L1354.87 573.13 L1355.22 573.21 L1355.57 573.29 L1355.92 573.37 L1356.27 573.45 L1356.62 573.53 L1356.97 573.62 L1357.32 573.70 L1359.44 574.17 L1361.56 574.64 L1363.68 575.09 L1365.80 575.53 L1367.92 575.96 L1370.04 576.38 L1372.16 576.78 L1374.28 577.18 L1376.40 577.56 L1378.52 577.94 L1380.64 578.31 L1382.76 578.66 L1384.88 579.01 L1387.00 579.35 L1389.12 579.69 L1391.24 580.01 L1393.36 580.33 L1395.47 580.64 L1397.59 580.94 L1399.71 581.23 L1401.83 581.52 L1403.95 581.80 L1406.07 582.08 L1408.19 582.35 L1410.31 582.61 L1412.43 582.87 L1414.55 583.12 L1416.67 583.36 L1418.79 583.60 L1420.91 583.84 L1423.03 584.07 L1425.15 584.30 L1427.27 584.52 L1429.39 584.73 L1431.51 584.94 L1433.63 585.15 L1435.75 585.35 L1437.87 585.55 L1439.99 585.75 L1442.11 585.94 L1444.23 586.12 L1446.35 586.30 L1448.47 586.48 L1450.59 586.66 L1452.71 586.83 L1454.83 587.00 L1456.95 587.16 L1459.07 587.33 L1461.19 587.48 L1463.31 587.64 L1465.43 587.79 L1467.55 587.94 L1469.67 588.09 L1471.79 588.23 L1473.90 588.37 L1476.02 588.51 L1478.14 588.65 L1480.26 588.78 L1482.38 588.91 L1484.50 589.04 L1486.62 589.16 L1488.74 589.29 L1490.86 589.41 L1492.98 589.53 L1495.10 589.64 L1497.22 589.76 L1499.34 589.87 L1501.46 589.98 L1503.58 590.09 L1505.70 590.19 L1507.82 590.30 L1509.94 590.40 L1512.06 590.50 L1514.18 590.60 L1516.30 590.69 L1518.42 590.79 L1520.54 590.88 L1522.66 590.97 L1524.78 591.06 L1526.90 591.15 L1529.02 591.23 L1531.14 591.32 L1533.26 591.40 L1535.38 591.48 L1537.50 591.56 L1539.62 591.64 L1541.74 591.72 L1543.86 591.80 L1545.98 591.87 L1548.10 591.94 L1550.21 592.01 L1552.33 592.08 L1554.45 592.15 L1556.57 592.22 L1558.69 592.29 L1560.81 592.35 L1562.93 592.42 L1565.05 592.48 L1567.17 592.54 L1569.29 592.60 L1571.41 592.66 L1573.53 592.72 L1575.65 592.78 L1577.77 592.83 L1579.89 592.89 L1582.01 592.94 L1584.13 593.00 L1586.25 593.05 L1588.37 593.10 L1590.49 593.15 L1592.61 593.20 L1594.73 593.25 L1596.85 593.30 L1598.97 593.34 L1601.09 593.39 L1603.21 593.44 L1605.33 593.48 L1607.45 593.52 L1609.57 593.57 L1611.69 593.61 L1623.97 593.83 L1636.25 594.04 L1648.53 594.22 L1660.81 594.38 L1673.09 594.53 L1685.37 594.66 L1697.65 594.77 L1709.92 594.87 L1722.20 594.97 L1734.48 595.05 L1746.76 595.12 L1759.04 595.18 L1771.32 595.23 L1783.60 595.28 L1795.88 595.33 L1808.16 595.36 L1820.44 595.40 L1832.72 595.43 L1845.00 595.45 L1857.28 595.47 L1869.56 595.49 L1881.84 595.51 L1894.12 595.52 L1906.40 595.54 L1918.68 595.55 L1930.96 595.56 L1943.24 595.57 L1955.52 595.57 L1967.80 595.58" stroke="#000" stroke-width="5.5" stroke-dasharray="5.330 5.660"/>
</g>
<text transform="translate(1195.10 634.80) scale(1.0200 1.0450)" font-size="25.3" text-anchor="end" font-weight="normal" fill="#262626" >0</text>
<text transform="translate(1195.10 517.46) scale(1.0200 1.0450)" font-size="25.3" text-anchor="end" font-weight="normal" fill="#262626" >2</text>
<text transform="translate(1195.10 400.12) scale(1.0200 1.0450)" font-size="25.3" text-anchor="end" font-weight="normal" fill="#262626" >4</text>
<text transform="translate(1195.10 282.78) scale(1.0200 1.0450)" font-size="25.3" text-anchor="end" font-weight="normal" fill="#262626" >6</text>
<text transform="translate(1195.10 165.44) scale(1.0200 1.0450)" font-size="25.3" text-anchor="end" font-weight="normal" fill="#262626" >8</text>
<text transform="translate(1195.10 48.10) scale(1.0200 1.0450)" font-size="25.3" text-anchor="end" font-weight="normal" fill="#262626" >10</text>
<text transform="translate(1203.80 660.30) scale(1.0400 1.0450)" font-size="25.3" text-anchor="middle" font-weight="normal" fill="#262626" >0</text>
<text transform="translate(1330.98 660.30) scale(1.0400 1.0450)" font-size="25.3" text-anchor="middle" font-weight="normal" fill="#262626" >5</text>
<text transform="translate(1458.17 660.30) scale(1.0400 1.0450)" font-size="25.3" text-anchor="middle" font-weight="normal" fill="#262626" >10</text>
<text transform="translate(1585.35 660.30) scale(1.0400 1.0450)" font-size="25.3" text-anchor="middle" font-weight="normal" fill="#262626" >15</text>
<text transform="translate(1712.53 660.30) scale(1.0400 1.0450)" font-size="25.3" text-anchor="middle" font-weight="normal" fill="#262626" >20</text>
<text transform="translate(1839.72 660.30) scale(1.0400 1.0450)" font-size="25.3" text-anchor="middle" font-weight="normal" fill="#262626" >25</text>
<text transform="translate(1966.90 660.30) scale(1.0400 1.0450)" font-size="25.3" text-anchor="middle" font-weight="normal" fill="#262626" >30</text>
<text transform="translate(1586.40 699.00) scale(1.0400 1.0000)" font-size="27.7" text-anchor="middle" font-weight="normal" fill="#262626" >time</text>
<text transform="translate(1153.60 331.60) rotate(-90) scale(1.0430 1.0000)" font-size="29" text-anchor="middle" font-weight="normal" fill="#262626" >Bacteria concentration</text>
<text transform="translate(1587.20 24.90) scale(1.0050 1.0400)" font-size="28.9" text-anchor="middle" font-weight="bold" fill="#000" >Bacteria dynamics</text>
<text transform="translate(1302.70 116.90) scale(1.0100 1.0700)" font-size="26" text-anchor="middle" font-weight="normal" fill="#262626" >(b)</text>
<text transform="translate(1214.60 35.40)" font-size="31" text-anchor="middle" font-weight="normal" fill="#333" stroke="#fff" stroke-width="0.5">×</text>
<text transform="translate(1226.20 31.90) scale(1.0000 1.0600)" font-size="26" text-anchor="start" font-weight="normal" fill="#262626" >10<tspan font-size="19.5" dy="-13.6">6</tspan></text>
<rect x="1412" y="305.9" width="313.20" height="79.60" fill="#fff" stroke="#7f7f7f" stroke-width="2.5"/>
<path d="M1418 327.7 L1459.6 327.7" stroke="#ff0000" stroke-width="5.78" fill="none"/>
<path d="M1418 365 L1459.6 365" stroke="#000" stroke-width="5.78" stroke-dasharray="5.3 5.7" fill="none"/>
<text transform="translate(1463.60 329.30)" font-size="22.2" text-anchor="start" font-weight="normal" fill="#000" >Bactria density, B<tspan font-size="17" dy="11.4">0</tspan><tspan dy="-11.4">=5</tspan></text>
<text transform="translate(1678.90 331.30)" font-size="26" text-anchor="middle" font-weight="normal" fill="#333" stroke="#fff" stroke-width="0.45">×</text>
<text transform="translate(1696.00 329.60) scale(0.9000 1.0000)" font-size="21" text-anchor="start" font-weight="normal" fill="#111" font-family="'DejaVu Serif', 'Liberation Serif', serif" font-style="italic">κ</text>
<text transform="translate(1463.60 366.90)" font-size="22.2" text-anchor="start" font-weight="normal" fill="#000" >Bactria density, B<tspan font-size="17" dy="11.4">0</tspan><tspan dy="-11.4">=10</tspan></text>
<text transform="translate(1691.40 368.90)" font-size="26" text-anchor="middle" font-weight="normal" fill="#333" stroke="#fff" stroke-width="0.45">×</text>
<text transform="translate(1708.50 367.20) scale(0.9000 1.0000)" font-size="21" text-anchor="start" font-weight="normal" fill="#111" font-family="'DejaVu Serif', 'Liberation Serif', serif" font-style="italic">κ</text>
</g>
</svg>
</body></html>
